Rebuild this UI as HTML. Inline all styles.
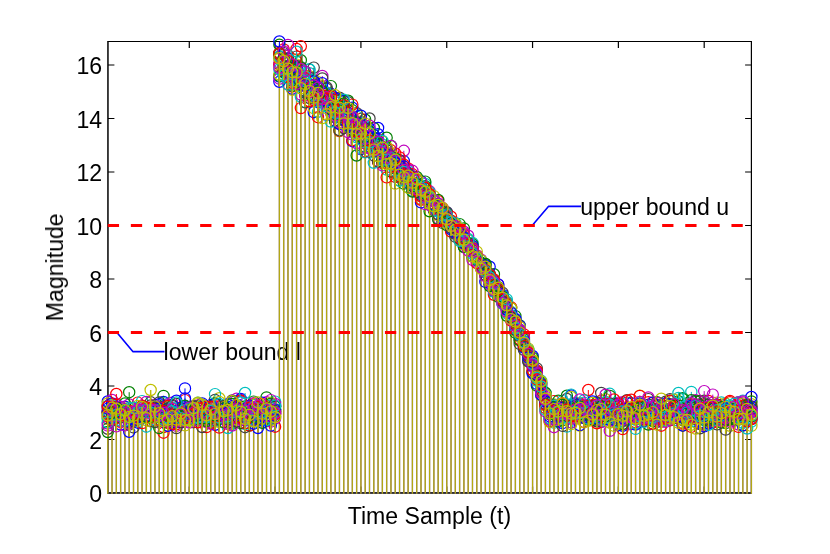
<!DOCTYPE html>
<html><head><meta charset="utf-8"><title>stem plot</title>
<style>
html,body{margin:0;padding:0;background:#fff}
svg{display:block}
text{font-family:"Liberation Sans",sans-serif;font-size:23.1px;fill:#000;will-change:opacity;filter:opacity(0.9999)}
.s{fill:none;stroke-width:1}
.m{fill:none;stroke:none}
</style></head><body>
<svg width="830" height="554" viewBox="0 0 830 554">
<defs>
<marker id="m0" markerUnits="userSpaceOnUse" markerWidth="14" markerHeight="14" refX="7" refY="7" overflow="visible"><circle cx="7" cy="7" r="5.6" fill="none" stroke="#0000ff" stroke-width="1.2"/></marker>
<marker id="m1" markerUnits="userSpaceOnUse" markerWidth="14" markerHeight="14" refX="7" refY="7" overflow="visible"><circle cx="7" cy="7" r="5.6" fill="none" stroke="#008000" stroke-width="1.2"/></marker>
<marker id="m2" markerUnits="userSpaceOnUse" markerWidth="14" markerHeight="14" refX="7" refY="7" overflow="visible"><circle cx="7" cy="7" r="5.6" fill="none" stroke="#ff0000" stroke-width="1.2"/></marker>
<marker id="m3" markerUnits="userSpaceOnUse" markerWidth="14" markerHeight="14" refX="7" refY="7" overflow="visible"><circle cx="7" cy="7" r="5.6" fill="none" stroke="#00bfbf" stroke-width="1.2"/></marker>
<marker id="m4" markerUnits="userSpaceOnUse" markerWidth="14" markerHeight="14" refX="7" refY="7" overflow="visible"><circle cx="7" cy="7" r="5.6" fill="none" stroke="#bf00bf" stroke-width="1.2"/></marker>
<marker id="m5" markerUnits="userSpaceOnUse" markerWidth="14" markerHeight="14" refX="7" refY="7" overflow="visible"><circle cx="7" cy="7" r="5.6" fill="none" stroke="#bfbf00" stroke-width="1.2"/></marker>
<marker id="m6" markerUnits="userSpaceOnUse" markerWidth="14" markerHeight="14" refX="7" refY="7" overflow="visible"><circle cx="7" cy="7" r="5.6" fill="none" stroke="#404040" stroke-width="1.2"/></marker>
</defs>
<rect width="830" height="554" fill="#fff"/>
<g stroke="#000" fill="none">
<path stroke-width="1.1" d="M107.3 41.5H752M107.3 493.0H752"/>
<path stroke-width="1.5" d="M107.95 41.5V493.0"/><path stroke-width="1.2" d="M751.4 41.5V493.0"/>
<path stroke-width="1.2" d="M108 493.00h6.4M751.5 493.00h-6.4M108 439.50h6.4M751.5 439.50h-6.4M108 386.00h6.4M751.5 386.00h-6.4M108 332.50h6.4M751.5 332.50h-6.4M108 279.00h6.4M751.5 279.00h-6.4M108 225.50h6.4M751.5 225.50h-6.4M108 172.00h6.4M751.5 172.00h-6.4M108 118.50h6.4M751.5 118.50h-6.4M108 65.00h6.4M751.5 65.00h-6.4M189.28 41.5v6.4M189.28 493.0v-6.4M275.10 41.5v6.4M275.10 493.0v-6.4M360.92 41.5v6.4M360.92 493.0v-6.4M446.74 41.5v6.4M446.74 493.0v-6.4M532.56 41.5v6.4M532.56 493.0v-6.4M618.38 41.5v6.4M618.38 493.0v-6.4M704.20 41.5v6.4M704.20 493.0v-6.4"/>
</g>
<text x="102.1" y="502.0" text-anchor="end">0</text>
<text x="102.1" y="448.5" text-anchor="end">2</text>
<text x="102.1" y="395.0" text-anchor="end">4</text>
<text x="102.1" y="341.5" text-anchor="end">6</text>
<text x="102.1" y="288.0" text-anchor="end">8</text>
<text x="102.1" y="234.5" text-anchor="end">10</text>
<text x="102.1" y="181.0" text-anchor="end">12</text>
<text x="102.1" y="127.5" text-anchor="end">14</text>
<text x="102.1" y="74.0" text-anchor="end">16</text>
<text x="429.4" y="524.2" text-anchor="middle">Time Sample (t)</text>
<text transform="translate(63,267.3) rotate(-90)" text-anchor="middle">Magnitude</text>
<g fill="none" stroke="#0000ff" stroke-width="1.6" stroke-linejoin="round"><path d="M532.2 225.5L548.4 206.4H581"/><path d="M116.5 332L132.8 351.6H164.5"/></g>
<text x="580.2" y="214.6">upper bound u</text>
<text x="163.6" y="359.7">lower bound l</text>
<path d="M107.15 492.9H752.0" stroke="#2c2c34" stroke-width="1.9" fill="none"/>
<path fill="none" stroke="#94706a" stroke-width="1.4" d="M107.75 493.8V436.6M112.04 493.8V425.0M116.33 493.8V431.0M120.62 493.8V429.1M124.91 493.8V430.0M129.20 493.8V436.4M133.50 493.8V432.0M137.79 493.8V427.3M142.08 493.8V427.7M146.37 493.8V431.3M150.66 493.8V426.0M154.95 493.8V426.6M159.24 493.8V432.7M163.53 493.8V437.3M167.82 493.8V430.4M172.12 493.8V428.6M176.41 493.8V432.7M180.70 493.8V427.1M184.99 493.8V430.0M189.28 493.8V427.1M193.57 493.8V426.8M197.86 493.8V426.9M202.15 493.8V431.6M206.44 493.8V431.7M210.73 493.8V428.5M215.02 493.8V429.4M219.32 493.8V432.2M223.61 493.8V426.8M227.90 493.8V432.6M232.19 493.8V430.1M236.48 493.8V426.3M240.77 493.8V427.7M245.06 493.8V431.8M249.35 493.8V430.1M253.64 493.8V428.3M257.93 493.8V432.6M262.23 493.8V427.4M266.52 493.8V425.1M270.81 493.8V430.2M275.10 493.8V431.3M279.39 493.8V86.4M283.68 493.8V80.1M287.97 493.8V89.2M292.26 493.8V94.5M296.55 493.8V88.4M300.84 493.8V112.7M305.14 493.8V107.0M309.43 493.8V105.9M313.72 493.8V116.8M318.01 493.8V121.8M322.30 493.8V122.8M326.59 493.8V119.5M330.88 493.8V126.2M335.17 493.8V126.2M339.46 493.8V135.6M343.75 493.8V132.8M348.05 493.8V136.7M352.34 493.8V145.8M356.63 493.8V160.1M360.92 493.8V153.7M365.21 493.8V157.0M369.50 493.8V156.2M373.79 493.8V167.4M378.08 493.8V166.6M382.37 493.8V170.0M386.66 493.8V182.0M390.96 493.8V176.1M395.25 493.8V188.3M399.54 493.8V185.3M403.83 493.8V188.2M408.12 493.8V192.3M412.41 493.8V196.1M416.70 493.8V196.7M420.99 493.8V207.0M425.28 493.8V208.7M429.57 493.8V215.9M433.87 493.8V214.8M438.16 493.8V223.8M442.45 493.8V227.5M446.74 493.8V229.6M451.03 493.8V236.1M455.32 493.8V241.3M459.61 493.8V245.4M463.90 493.8V251.7M468.19 493.8V255.1M472.48 493.8V264.5M476.78 493.8V267.8M481.07 493.8V273.5M485.36 493.8V286.5M489.65 493.8V290.6M493.94 493.8V299.4M498.23 493.8V301.5M502.52 493.8V308.5M506.81 493.8V320.4M511.10 493.8V325.1M515.39 493.8V337.3M519.69 493.8V348.5M523.98 493.8V354.5M528.27 493.8V366.0M532.56 493.8V377.9M536.85 493.8V390.3M541.14 493.8V400.3M545.43 493.8V416.0M549.72 493.8V426.5M554.01 493.8V431.8M558.30 493.8V426.0M562.60 493.8V430.5M566.89 493.8V431.2M571.18 493.8V428.8M575.47 493.8V423.5M579.76 493.8V430.3M584.05 493.8V427.0M588.34 493.8V425.4M592.63 493.8V424.4M596.92 493.8V427.9M601.21 493.8V426.6M605.51 493.8V423.9M609.80 493.8V435.5M614.09 493.8V430.5M618.38 493.8V429.8M622.67 493.8V433.7M626.96 493.8V424.2M631.25 493.8V428.7M635.54 493.8V433.5M639.83 493.8V426.1M644.12 493.8V426.5M648.42 493.8V429.1M652.71 493.8V428.5M657.00 493.8V429.3M661.29 493.8V430.3M665.58 493.8V426.5M669.87 493.8V424.9M674.16 493.8V424.7M678.45 493.8V427.4M682.74 493.8V430.3M687.03 493.8V426.8M691.33 493.8V431.5M695.62 493.8V433.3M699.91 493.8V432.9M704.20 493.8V431.0M708.49 493.8V429.4M712.78 493.8V427.1M717.07 493.8V429.0M721.36 493.8V427.2M725.65 493.8V434.2M729.94 493.8V430.4M734.24 493.8V424.7M738.53 493.8V431.5M742.82 493.8V430.1M747.11 493.8V433.1M751.40 493.8V430.5"/>
<path fill="none" stroke="#b4ac10" stroke-width="1.1" d="M107.75 493.8V436.6M112.04 493.8V425.0M116.33 493.8V431.0M120.62 493.8V429.1M124.91 493.8V430.0M129.20 493.8V436.4M133.50 493.8V432.0M137.79 493.8V427.3M142.08 493.8V427.7M146.37 493.8V431.3M150.66 493.8V426.0M154.95 493.8V426.6M159.24 493.8V432.7M163.53 493.8V437.3M167.82 493.8V430.4M172.12 493.8V428.6M176.41 493.8V432.7M180.70 493.8V427.1M184.99 493.8V430.0M189.28 493.8V427.1M193.57 493.8V426.8M197.86 493.8V426.9M202.15 493.8V431.6M206.44 493.8V431.7M210.73 493.8V428.5M215.02 493.8V429.4M219.32 493.8V432.2M223.61 493.8V426.8M227.90 493.8V432.6M232.19 493.8V430.1M236.48 493.8V426.3M240.77 493.8V427.7M245.06 493.8V431.8M249.35 493.8V430.1M253.64 493.8V428.3M257.93 493.8V432.6M262.23 493.8V427.4M266.52 493.8V425.1M270.81 493.8V430.2M275.10 493.8V431.3M279.39 493.8V86.4M283.68 493.8V80.1M287.97 493.8V89.2M292.26 493.8V94.5M296.55 493.8V88.4M300.84 493.8V112.7M305.14 493.8V107.0M309.43 493.8V105.9M313.72 493.8V116.8M318.01 493.8V121.8M322.30 493.8V122.8M326.59 493.8V119.5M330.88 493.8V126.2M335.17 493.8V126.2M339.46 493.8V135.6M343.75 493.8V132.8M348.05 493.8V136.7M352.34 493.8V145.8M356.63 493.8V160.1M360.92 493.8V153.7M365.21 493.8V157.0M369.50 493.8V156.2M373.79 493.8V167.4M378.08 493.8V166.6M382.37 493.8V170.0M386.66 493.8V182.0M390.96 493.8V176.1M395.25 493.8V188.3M399.54 493.8V185.3M403.83 493.8V188.2M408.12 493.8V192.3M412.41 493.8V196.1M416.70 493.8V196.7M420.99 493.8V207.0M425.28 493.8V208.7M429.57 493.8V215.9M433.87 493.8V214.8M438.16 493.8V223.8M442.45 493.8V227.5M446.74 493.8V229.6M451.03 493.8V236.1M455.32 493.8V241.3M459.61 493.8V245.4M463.90 493.8V251.7M468.19 493.8V255.1M472.48 493.8V264.5M476.78 493.8V267.8M481.07 493.8V273.5M485.36 493.8V286.5M489.65 493.8V290.6M493.94 493.8V299.4M498.23 493.8V301.5M502.52 493.8V308.5M506.81 493.8V320.4M511.10 493.8V325.1M515.39 493.8V337.3M519.69 493.8V348.5M523.98 493.8V354.5M528.27 493.8V366.0M532.56 493.8V377.9M536.85 493.8V390.3M541.14 493.8V400.3M545.43 493.8V416.0M549.72 493.8V426.5M554.01 493.8V431.8M558.30 493.8V426.0M562.60 493.8V430.5M566.89 493.8V431.2M571.18 493.8V428.8M575.47 493.8V423.5M579.76 493.8V430.3M584.05 493.8V427.0M588.34 493.8V425.4M592.63 493.8V424.4M596.92 493.8V427.9M601.21 493.8V426.6M605.51 493.8V423.9M609.80 493.8V435.5M614.09 493.8V430.5M618.38 493.8V429.8M622.67 493.8V433.7M626.96 493.8V424.2M631.25 493.8V428.7M635.54 493.8V433.5M639.83 493.8V426.1M644.12 493.8V426.5M648.42 493.8V429.1M652.71 493.8V428.5M657.00 493.8V429.3M661.29 493.8V430.3M665.58 493.8V426.5M669.87 493.8V424.9M674.16 493.8V424.7M678.45 493.8V427.4M682.74 493.8V430.3M687.03 493.8V426.8M691.33 493.8V431.5M695.62 493.8V433.3M699.91 493.8V432.9M704.20 493.8V431.0M708.49 493.8V429.4M712.78 493.8V427.1M717.07 493.8V429.0M721.36 493.8V427.2M725.65 493.8V434.2M729.94 493.8V430.4M734.24 493.8V424.7M738.53 493.8V431.5M742.82 493.8V430.1M747.11 493.8V433.1M751.40 493.8V430.5"/>
<path class="s" stroke="#0000ff" d="M107.75 436.6V401.5M112.04 425.0V410.0M116.33 431.0V412.1M120.62 429.1V424.5M124.91 430.0V414.5M129.20 436.4V415.0M133.50 432.0V413.3M137.79 427.3V416.7M142.08 427.7V413.0M146.37 431.3V415.7M150.66 426.0V421.0M154.95 426.6V407.2M159.24 432.7V407.2M163.53 437.3V402.0M167.82 430.4V412.4M172.12 428.6V415.3M176.41 432.7V416.2M180.70 427.1V422.5M184.99 430.0V406.6M189.28 427.1V419.7M193.57 426.8V420.2M197.86 426.9V414.0M202.15 431.6V403.4M206.44 431.7V411.3M210.73 428.5V419.2M215.02 429.4V417.2M219.32 432.2V408.8M223.61 426.8V413.8M227.90 432.6V417.6M232.19 430.1V414.2M236.48 426.3V408.1M240.77 427.7V400.3M245.06 431.8V420.6M249.35 430.1V416.7M253.64 428.3V417.8M257.93 432.6V428.0M262.23 427.4V418.6M266.52 425.1V419.2M270.81 430.2V405.7M275.10 431.3V413.6M279.39 86.4V76.6M283.68 80.1V58.4M287.97 89.2V71.8M292.26 94.5V88.8M296.55 88.4V81.4M300.84 112.7V85.1M305.14 107.0V91.5M309.43 105.9V86.5M313.72 116.8V112.2M318.01 121.8V96.8M322.30 122.8V88.3M326.59 119.5V93.6M330.88 126.2V95.1M335.17 126.2V98.8M339.46 135.6V99.3M343.75 132.8V127.1M348.05 136.7V113.0M352.34 145.8V141.2M356.63 160.1V133.7M360.92 153.7V149.1M365.21 157.0V127.1M369.50 156.2V128.9M373.79 167.4V145.5M378.08 166.6V134.2M382.37 170.0V157.0M386.66 182.0V154.9M390.96 176.1V159.0M395.25 188.3V171.1M399.54 185.3V165.6M403.83 188.2V161.1M408.12 192.3V182.6M412.41 196.1V176.2M416.70 196.7V186.3M420.99 207.0V181.1M425.28 208.7V192.2M429.57 215.9V196.0M433.87 214.8V200.9M438.16 223.8V207.4M442.45 227.5V219.5M446.74 229.6V212.4M451.03 236.1V229.3M455.32 241.3V227.8M459.61 245.4V231.6M463.90 251.7V243.0M468.19 255.1V244.8M472.48 264.5V246.6M476.78 267.8V257.4M481.07 273.5V267.2M485.36 286.5V281.9M489.65 290.6V280.9M493.94 299.4V286.4M498.23 301.5V293.4M502.52 308.5V302.9M506.81 320.4V305.6M511.10 325.1V317.8M515.39 337.3V324.8M519.69 348.5V330.9M523.98 354.5V346.9M528.27 366.0V355.0M532.56 377.9V356.0M536.85 390.3V372.7M541.14 400.3V394.7M545.43 416.0V401.9M549.72 426.5V409.2M554.01 431.8V405.0M558.30 426.0V411.8M562.60 430.5V416.1M566.89 431.2V417.3M571.18 428.8V408.7M575.47 423.5V410.8M579.76 430.3V416.0M584.05 427.0V413.9M588.34 425.4V415.4M592.63 424.4V408.2M596.92 427.9V417.1M601.21 426.6V409.7M605.51 423.9V407.4M609.80 435.5V409.7M614.09 430.5V418.0M618.38 429.8V404.3M622.67 433.7V417.0M626.96 424.2V410.1M631.25 428.7V417.5M635.54 433.5V423.7M639.83 426.1V411.3M644.12 426.5V410.9M648.42 429.1V413.2M652.71 428.5V411.0M657.00 429.3V416.8M661.29 430.3V417.4M665.58 426.5V413.8M669.87 424.9V400.7M674.16 424.7V407.6M678.45 427.4V416.0M682.74 430.3V409.2M687.03 426.8V415.8M691.33 431.5V415.6M695.62 433.3V407.3M699.91 432.9V416.1M704.20 431.0V423.3M708.49 429.4V418.4M712.78 427.1V412.2M717.07 429.0V411.9M721.36 427.2V404.9M725.65 434.2V417.3M729.94 430.4V408.2M734.24 424.7V410.1M738.53 431.5V413.7M742.82 430.1V407.5M747.11 433.1V409.7M751.40 430.5V418.2"/>
<polyline class="m" marker-start="url(#m0)" marker-mid="url(#m0)" marker-end="url(#m0)" points="107.75,401.5 112.04,410.0 116.33,412.1 120.62,424.5 124.91,414.5 129.20,415.0 133.50,413.3 137.79,416.7 142.08,413.0 146.37,415.7 150.66,421.0 154.95,407.2 159.24,407.2 163.53,402.0 167.82,412.4 172.12,415.3 176.41,416.2 180.70,422.5 184.99,406.6 189.28,419.7 193.57,420.2 197.86,414.0 202.15,403.4 206.44,411.3 210.73,419.2 215.02,417.2 219.32,408.8 223.61,413.8 227.90,417.6 232.19,414.2 236.48,408.1 240.77,400.3 245.06,420.6 249.35,416.7 253.64,417.8 257.93,428.0 262.23,418.6 266.52,419.2 270.81,405.7 275.10,413.6 279.39,76.6 283.68,58.4 287.97,71.8 292.26,88.8 296.55,81.4 300.84,85.1 305.14,91.5 309.43,86.5 313.72,112.2 318.01,96.8 322.30,88.3 326.59,93.6 330.88,95.1 335.17,98.8 339.46,99.3 343.75,127.1 348.05,113.0 352.34,141.2 356.63,133.7 360.92,149.1 365.21,127.1 369.50,128.9 373.79,145.5 378.08,134.2 382.37,157.0 386.66,154.9 390.96,159.0 395.25,171.1 399.54,165.6 403.83,161.1 408.12,182.6 412.41,176.2 416.70,186.3 420.99,181.1 425.28,192.2 429.57,196.0 433.87,200.9 438.16,207.4 442.45,219.5 446.74,212.4 451.03,229.3 455.32,227.8 459.61,231.6 463.90,243.0 468.19,244.8 472.48,246.6 476.78,257.4 481.07,267.2 485.36,281.9 489.65,280.9 493.94,286.4 498.23,293.4 502.52,302.9 506.81,305.6 511.10,317.8 515.39,324.8 519.69,330.9 523.98,346.9 528.27,355.0 532.56,356.0 536.85,372.7 541.14,394.7 545.43,401.9 549.72,409.2 554.01,405.0 558.30,411.8 562.60,416.1 566.89,417.3 571.18,408.7 575.47,410.8 579.76,416.0 584.05,413.9 588.34,415.4 592.63,408.2 596.92,417.1 601.21,409.7 605.51,407.4 609.80,409.7 614.09,418.0 618.38,404.3 622.67,417.0 626.96,410.1 631.25,417.5 635.54,423.7 639.83,411.3 644.12,410.9 648.42,413.2 652.71,411.0 657.00,416.8 661.29,417.4 665.58,413.8 669.87,400.7 674.16,407.6 678.45,416.0 682.74,409.2 687.03,415.8 691.33,415.6 695.62,407.3 699.91,416.1 704.20,423.3 708.49,418.4 712.78,412.2 717.07,411.9 721.36,404.9 725.65,417.3 729.94,408.2 734.24,410.1 738.53,413.7 742.82,407.5 747.11,409.7 751.40,418.2"/>
<path class="s" stroke="#008000" d="M107.75 436.6V406.0M112.04 425.0V420.4M116.33 431.0V412.4M120.62 429.1V412.7M124.91 430.0V410.1M129.20 436.4V417.3M133.50 432.0V413.0M137.79 427.3V413.6M142.08 427.7V406.5M146.37 431.3V417.8M150.66 426.0V412.3M154.95 426.6V414.4M159.24 432.7V420.9M163.53 437.3V395.9M167.82 430.4V413.2M172.12 428.6V422.1M176.41 432.7V403.9M180.70 427.1V419.5M184.99 430.0V410.4M189.28 427.1V407.3M193.57 426.8V416.8M197.86 426.9V415.5M202.15 431.6V416.1M206.44 431.7V413.6M210.73 428.5V422.9M215.02 429.4V420.5M219.32 432.2V413.6M223.61 426.8V406.2M227.90 432.6V408.8M232.19 430.1V401.9M236.48 426.3V408.4M240.77 427.7V416.0M245.06 431.8V413.5M249.35 430.1V425.5M253.64 428.3V418.8M257.93 432.6V419.2M262.23 427.4V411.0M266.52 425.1V408.7M270.81 430.2V416.3M275.10 431.3V416.4M279.39 86.4V75.9M283.68 80.1V65.9M287.97 89.2V65.9M292.26 94.5V67.7M296.55 88.4V83.2M300.84 112.7V60.2M305.14 107.0V71.6M309.43 105.9V87.7M313.72 116.8V95.6M318.01 121.8V97.3M322.30 122.8V96.5M326.59 119.5V101.9M330.88 126.2V100.9M335.17 126.2V102.1M339.46 135.6V100.4M343.75 132.8V106.3M348.05 136.7V121.6M352.34 145.8V121.0M356.63 160.1V131.8M360.92 153.7V137.4M365.21 157.0V119.7M369.50 156.2V143.8M373.79 167.4V128.0M378.08 166.6V150.6M382.37 170.0V150.0M386.66 182.0V148.1M390.96 176.1V159.9M395.25 188.3V161.6M399.54 185.3V169.8M403.83 188.2V175.3M408.12 192.3V177.7M412.41 196.1V184.7M416.70 196.7V177.0M420.99 207.0V190.8M425.28 208.7V186.3M429.57 215.9V211.3M433.87 214.8V203.7M438.16 223.8V206.1M442.45 227.5V214.7M446.74 229.6V213.7M451.03 236.1V220.8M455.32 241.3V229.9M459.61 245.4V232.4M463.90 251.7V228.4M468.19 255.1V244.4M472.48 264.5V250.1M476.78 267.8V259.1M481.07 273.5V263.1M485.36 286.5V275.3M489.65 290.6V277.8M493.94 299.4V274.2M498.23 301.5V287.1M502.52 308.5V296.5M506.81 320.4V302.7M511.10 325.1V308.0M515.39 337.3V322.0M519.69 348.5V325.4M523.98 354.5V339.2M528.27 366.0V353.1M532.56 377.9V357.8M536.85 390.3V385.7M541.14 400.3V391.2M545.43 416.0V400.0M549.72 426.5V418.5M554.01 431.8V413.7M558.30 426.0V416.8M562.60 430.5V416.9M566.89 431.2V395.7M571.18 428.8V408.8M575.47 423.5V413.1M579.76 430.3V404.5M584.05 427.0V414.2M588.34 425.4V407.2M592.63 424.4V410.5M596.92 427.9V402.5M601.21 426.6V421.7M605.51 423.9V407.9M609.80 435.5V412.0M614.09 430.5V420.0M618.38 429.8V406.1M622.67 433.7V418.2M626.96 424.2V402.6M631.25 428.7V409.5M635.54 433.5V408.4M639.83 426.1V412.2M644.12 426.5V407.1M648.42 429.1V424.5M652.71 428.5V412.3M657.00 429.3V416.7M661.29 430.3V411.0M665.58 426.5V413.0M669.87 424.9V408.9M674.16 424.7V418.0M678.45 427.4V401.2M682.74 430.3V398.2M687.03 426.8V414.1M691.33 431.5V412.8M695.62 433.3V410.9M699.91 432.9V404.8M704.20 431.0V400.8M708.49 429.4V420.3M712.78 427.1V416.6M717.07 429.0V419.4M721.36 427.2V419.7M725.65 434.2V423.1M729.94 430.4V410.5M734.24 424.7V420.0M738.53 431.5V403.3M742.82 430.1V407.0M747.11 433.1V419.2M751.40 430.5V419.2"/>
<polyline class="m" marker-start="url(#m1)" marker-mid="url(#m1)" marker-end="url(#m1)" points="107.75,406.0 112.04,420.4 116.33,412.4 120.62,412.7 124.91,410.1 129.20,417.3 133.50,413.0 137.79,413.6 142.08,406.5 146.37,417.8 150.66,412.3 154.95,414.4 159.24,420.9 163.53,395.9 167.82,413.2 172.12,422.1 176.41,403.9 180.70,419.5 184.99,410.4 189.28,407.3 193.57,416.8 197.86,415.5 202.15,416.1 206.44,413.6 210.73,422.9 215.02,420.5 219.32,413.6 223.61,406.2 227.90,408.8 232.19,401.9 236.48,408.4 240.77,416.0 245.06,413.5 249.35,425.5 253.64,418.8 257.93,419.2 262.23,411.0 266.52,408.7 270.81,416.3 275.10,416.4 279.39,75.9 283.68,65.9 287.97,65.9 292.26,67.7 296.55,83.2 300.84,60.2 305.14,71.6 309.43,87.7 313.72,95.6 318.01,97.3 322.30,96.5 326.59,101.9 330.88,100.9 335.17,102.1 339.46,100.4 343.75,106.3 348.05,121.6 352.34,121.0 356.63,131.8 360.92,137.4 365.21,119.7 369.50,143.8 373.79,128.0 378.08,150.6 382.37,150.0 386.66,148.1 390.96,159.9 395.25,161.6 399.54,169.8 403.83,175.3 408.12,177.7 412.41,184.7 416.70,177.0 420.99,190.8 425.28,186.3 429.57,211.3 433.87,203.7 438.16,206.1 442.45,214.7 446.74,213.7 451.03,220.8 455.32,229.9 459.61,232.4 463.90,228.4 468.19,244.4 472.48,250.1 476.78,259.1 481.07,263.1 485.36,275.3 489.65,277.8 493.94,274.2 498.23,287.1 502.52,296.5 506.81,302.7 511.10,308.0 515.39,322.0 519.69,325.4 523.98,339.2 528.27,353.1 532.56,357.8 536.85,385.7 541.14,391.2 545.43,400.0 549.72,418.5 554.01,413.7 558.30,416.8 562.60,416.9 566.89,395.7 571.18,408.8 575.47,413.1 579.76,404.5 584.05,414.2 588.34,407.2 592.63,410.5 596.92,402.5 601.21,421.7 605.51,407.9 609.80,412.0 614.09,420.0 618.38,406.1 622.67,418.2 626.96,402.6 631.25,409.5 635.54,408.4 639.83,412.2 644.12,407.1 648.42,424.5 652.71,412.3 657.00,416.7 661.29,411.0 665.58,413.0 669.87,408.9 674.16,418.0 678.45,401.2 682.74,398.2 687.03,414.1 691.33,412.8 695.62,410.9 699.91,404.8 704.20,400.8 708.49,420.3 712.78,416.6 717.07,419.4 721.36,419.7 725.65,423.1 729.94,410.5 734.24,420.0 738.53,403.3 742.82,407.0 747.11,419.2 751.40,419.2"/>
<path class="s" stroke="#ff0000" d="M107.75 436.6V416.6M112.04 425.0V403.9M116.33 431.0V418.1M120.62 429.1V422.1M124.91 430.0V413.1M129.20 436.4V410.4M133.50 432.0V416.9M137.79 427.3V402.6M142.08 427.7V411.2M146.37 431.3V409.9M150.66 426.0V418.1M154.95 426.6V413.0M159.24 432.7V413.7M163.53 437.3V427.0M167.82 430.4V410.9M172.12 428.6V424.0M176.41 432.7V412.9M180.70 427.1V422.0M184.99 430.0V400.1M189.28 427.1V410.7M193.57 426.8V407.3M197.86 426.9V407.0M202.15 431.6V421.1M206.44 431.7V427.1M210.73 428.5V414.8M215.02 429.4V407.1M219.32 432.2V412.2M223.61 426.8V407.8M227.90 432.6V406.9M232.19 430.1V422.1M236.48 426.3V410.9M240.77 427.7V400.4M245.06 431.8V416.3M249.35 430.1V425.5M253.64 428.3V414.2M257.93 432.6V415.7M262.23 427.4V410.1M266.52 425.1V418.4M270.81 430.2V412.2M275.10 431.3V426.7M279.39 86.4V52.8M283.68 80.1V49.4M287.97 89.2V55.8M292.26 94.5V86.6M296.55 88.4V72.6M300.84 112.7V108.1M305.14 107.0V80.4M309.43 105.9V87.4M313.72 116.8V100.1M318.01 121.8V90.9M322.30 122.8V96.7M326.59 119.5V92.8M330.88 126.2V104.3M335.17 126.2V107.1M339.46 135.6V131.0M343.75 132.8V127.4M348.05 136.7V125.0M352.34 145.8V121.8M356.63 160.1V128.4M360.92 153.7V118.9M365.21 157.0V143.5M369.50 156.2V142.0M373.79 167.4V141.9M378.08 166.6V149.7M382.37 170.0V148.2M386.66 182.0V160.1M390.96 176.1V150.3M395.25 188.3V166.3M399.54 185.3V161.4M403.83 188.2V172.7M408.12 192.3V168.4M412.41 196.1V188.7M416.70 196.7V182.8M420.99 207.0V192.1M425.28 208.7V193.4M429.57 215.9V193.6M433.87 214.8V208.9M438.16 223.8V214.4M442.45 227.5V217.8M446.74 229.6V217.3M451.03 236.1V231.5M455.32 241.3V228.4M459.61 245.4V239.4M463.90 251.7V244.3M468.19 255.1V246.9M472.48 264.5V249.7M476.78 267.8V259.9M481.07 273.5V265.6M485.36 286.5V270.3M489.65 290.6V278.0M493.94 299.4V294.8M498.23 301.5V293.1M502.52 308.5V298.7M506.81 320.4V302.7M511.10 325.1V307.3M515.39 337.3V321.7M519.69 348.5V333.3M523.98 354.5V347.3M528.27 366.0V353.4M532.56 377.9V361.6M536.85 390.3V371.2M541.14 400.3V392.7M545.43 416.0V400.2M549.72 426.5V407.6M554.01 431.8V401.1M558.30 426.0V411.1M562.60 430.5V416.2M566.89 431.2V417.1M571.18 428.8V415.0M575.47 423.5V416.8M579.76 430.3V407.6M584.05 427.0V406.0M588.34 425.4V408.2M592.63 424.4V405.3M596.92 427.9V415.6M601.21 426.6V410.4M605.51 423.9V415.2M609.80 435.5V412.5M614.09 430.5V405.0M618.38 429.8V412.9M622.67 433.7V424.5M626.96 424.2V414.3M631.25 428.7V417.2M635.54 433.5V422.2M639.83 426.1V417.7M644.12 426.5V406.7M648.42 429.1V402.2M652.71 428.5V415.8M657.00 429.3V406.4M661.29 430.3V405.3M665.58 426.5V420.0M669.87 424.9V413.0M674.16 424.7V413.0M678.45 427.4V411.7M682.74 430.3V422.8M687.03 426.8V414.9M691.33 431.5V406.1M695.62 433.3V404.8M699.91 432.9V401.2M704.20 431.0V414.9M708.49 429.4V401.0M712.78 427.1V408.6M717.07 429.0V421.3M721.36 427.2V408.0M725.65 434.2V415.0M729.94 430.4V409.5M734.24 424.7V413.4M738.53 431.5V405.2M742.82 430.1V411.1M747.11 433.1V414.5M751.40 430.5V406.7"/>
<polyline class="m" marker-start="url(#m2)" marker-mid="url(#m2)" marker-end="url(#m2)" points="107.75,416.6 112.04,403.9 116.33,418.1 120.62,422.1 124.91,413.1 129.20,410.4 133.50,416.9 137.79,402.6 142.08,411.2 146.37,409.9 150.66,418.1 154.95,413.0 159.24,413.7 163.53,427.0 167.82,410.9 172.12,424.0 176.41,412.9 180.70,422.0 184.99,400.1 189.28,410.7 193.57,407.3 197.86,407.0 202.15,421.1 206.44,427.1 210.73,414.8 215.02,407.1 219.32,412.2 223.61,407.8 227.90,406.9 232.19,422.1 236.48,410.9 240.77,400.4 245.06,416.3 249.35,425.5 253.64,414.2 257.93,415.7 262.23,410.1 266.52,418.4 270.81,412.2 275.10,426.7 279.39,52.8 283.68,49.4 287.97,55.8 292.26,86.6 296.55,72.6 300.84,108.1 305.14,80.4 309.43,87.4 313.72,100.1 318.01,90.9 322.30,96.7 326.59,92.8 330.88,104.3 335.17,107.1 339.46,131.0 343.75,127.4 348.05,125.0 352.34,121.8 356.63,128.4 360.92,118.9 365.21,143.5 369.50,142.0 373.79,141.9 378.08,149.7 382.37,148.2 386.66,160.1 390.96,150.3 395.25,166.3 399.54,161.4 403.83,172.7 408.12,168.4 412.41,188.7 416.70,182.8 420.99,192.1 425.28,193.4 429.57,193.6 433.87,208.9 438.16,214.4 442.45,217.8 446.74,217.3 451.03,231.5 455.32,228.4 459.61,239.4 463.90,244.3 468.19,246.9 472.48,249.7 476.78,259.9 481.07,265.6 485.36,270.3 489.65,278.0 493.94,294.8 498.23,293.1 502.52,298.7 506.81,302.7 511.10,307.3 515.39,321.7 519.69,333.3 523.98,347.3 528.27,353.4 532.56,361.6 536.85,371.2 541.14,392.7 545.43,400.2 549.72,407.6 554.01,401.1 558.30,411.1 562.60,416.2 566.89,417.1 571.18,415.0 575.47,416.8 579.76,407.6 584.05,406.0 588.34,408.2 592.63,405.3 596.92,415.6 601.21,410.4 605.51,415.2 609.80,412.5 614.09,405.0 618.38,412.9 622.67,424.5 626.96,414.3 631.25,417.2 635.54,422.2 639.83,417.7 644.12,406.7 648.42,402.2 652.71,415.8 657.00,406.4 661.29,405.3 665.58,420.0 669.87,413.0 674.16,413.0 678.45,411.7 682.74,422.8 687.03,414.9 691.33,406.1 695.62,404.8 699.91,401.2 704.20,414.9 708.49,401.0 712.78,408.6 717.07,421.3 721.36,408.0 725.65,415.0 729.94,409.5 734.24,413.4 738.53,405.2 742.82,411.1 747.11,414.5 751.40,406.7"/>
<path class="s" stroke="#00bfbf" d="M107.75 436.6V411.1M112.04 425.0V415.3M116.33 431.0V404.7M120.62 429.1V415.3M124.91 430.0V416.8M129.20 436.4V416.1M133.50 432.0V422.0M137.79 427.3V416.2M142.08 427.7V401.1M146.37 431.3V418.5M150.66 426.0V412.7M154.95 426.6V419.7M159.24 432.7V416.6M163.53 437.3V403.2M167.82 430.4V407.1M172.12 428.6V416.6M176.41 432.7V412.7M180.70 427.1V417.9M184.99 430.0V417.7M189.28 427.1V418.5M193.57 426.8V418.4M197.86 426.9V410.7M202.15 431.6V409.0M206.44 431.7V409.7M210.73 428.5V413.8M215.02 429.4V421.3M219.32 432.2V413.2M223.61 426.8V418.6M227.90 432.6V407.2M232.19 430.1V409.3M236.48 426.3V408.1M240.77 427.7V414.9M245.06 431.8V424.1M249.35 430.1V406.7M253.64 428.3V405.0M257.93 432.6V422.1M262.23 427.4V411.9M266.52 425.1V405.2M270.81 430.2V419.5M275.10 431.3V401.6M279.39 86.4V64.3M283.68 80.1V75.0M287.97 89.2V55.1M292.26 94.5V69.2M296.55 88.4V82.0M300.84 112.7V70.9M305.14 107.0V101.9M309.43 105.9V69.3M313.72 116.8V98.4M318.01 121.8V91.5M322.30 122.8V101.8M326.59 119.5V97.6M330.88 126.2V97.1M335.17 126.2V116.9M339.46 135.6V105.8M343.75 132.8V119.5M348.05 136.7V126.9M352.34 145.8V126.5M356.63 160.1V137.3M360.92 153.7V139.2M365.21 157.0V128.0M369.50 156.2V141.3M373.79 167.4V134.8M378.08 166.6V144.6M382.37 170.0V159.6M386.66 182.0V169.7M390.96 176.1V164.8M395.25 188.3V162.4M399.54 185.3V168.3M403.83 188.2V177.4M408.12 192.3V171.1M412.41 196.1V190.6M416.70 196.7V192.1M420.99 207.0V189.3M425.28 208.7V184.0M429.57 215.9V197.2M433.87 214.8V208.3M438.16 223.8V205.9M442.45 227.5V210.4M446.74 229.6V214.4M451.03 236.1V225.2M455.32 241.3V232.1M459.61 245.4V233.7M463.90 251.7V238.0M468.19 255.1V239.0M472.48 264.5V242.9M476.78 267.8V260.3M481.07 273.5V265.7M485.36 286.5V270.4M489.65 290.6V278.0M493.94 299.4V282.1M498.23 301.5V289.4M502.52 308.5V298.0M506.81 320.4V301.7M511.10 325.1V316.2M515.39 337.3V328.6M519.69 348.5V339.9M523.98 354.5V347.6M528.27 366.0V358.0M532.56 377.9V372.3M536.85 390.3V373.6M541.14 400.3V387.6M545.43 416.0V403.8M549.72 426.5V418.3M554.01 431.8V422.7M558.30 426.0V418.5M562.60 430.5V401.1M566.89 431.2V426.6M571.18 428.8V411.9M575.47 423.5V408.1M579.76 430.3V411.9M584.05 427.0V414.7M588.34 425.4V407.9M592.63 424.4V419.7M596.92 427.9V409.3M601.21 426.6V403.8M605.51 423.9V419.3M609.80 435.5V417.9M614.09 430.5V411.9M618.38 429.8V406.5M622.67 433.7V404.3M626.96 424.2V408.5M631.25 428.7V417.0M635.54 433.5V419.8M639.83 426.1V411.2M644.12 426.5V410.2M648.42 429.1V419.7M652.71 428.5V412.4M657.00 429.3V410.7M661.29 430.3V406.2M665.58 426.5V419.0M669.87 424.9V409.2M674.16 424.7V420.1M678.45 427.4V415.4M682.74 430.3V413.2M687.03 426.8V403.2M691.33 431.5V391.9M695.62 433.3V411.2M699.91 432.9V409.6M704.20 431.0V406.4M708.49 429.4V421.3M712.78 427.1V407.9M717.07 429.0V420.6M721.36 427.2V402.5M725.65 434.2V403.7M729.94 430.4V409.6M734.24 424.7V417.8M738.53 431.5V402.3M742.82 430.1V411.1M747.11 433.1V412.1M751.40 430.5V409.1"/>
<polyline class="m" marker-start="url(#m3)" marker-mid="url(#m3)" marker-end="url(#m3)" points="107.75,411.1 112.04,415.3 116.33,404.7 120.62,415.3 124.91,416.8 129.20,416.1 133.50,422.0 137.79,416.2 142.08,401.1 146.37,418.5 150.66,412.7 154.95,419.7 159.24,416.6 163.53,403.2 167.82,407.1 172.12,416.6 176.41,412.7 180.70,417.9 184.99,417.7 189.28,418.5 193.57,418.4 197.86,410.7 202.15,409.0 206.44,409.7 210.73,413.8 215.02,421.3 219.32,413.2 223.61,418.6 227.90,407.2 232.19,409.3 236.48,408.1 240.77,414.9 245.06,424.1 249.35,406.7 253.64,405.0 257.93,422.1 262.23,411.9 266.52,405.2 270.81,419.5 275.10,401.6 279.39,64.3 283.68,75.0 287.97,55.1 292.26,69.2 296.55,82.0 300.84,70.9 305.14,101.9 309.43,69.3 313.72,98.4 318.01,91.5 322.30,101.8 326.59,97.6 330.88,97.1 335.17,116.9 339.46,105.8 343.75,119.5 348.05,126.9 352.34,126.5 356.63,137.3 360.92,139.2 365.21,128.0 369.50,141.3 373.79,134.8 378.08,144.6 382.37,159.6 386.66,169.7 390.96,164.8 395.25,162.4 399.54,168.3 403.83,177.4 408.12,171.1 412.41,190.6 416.70,192.1 420.99,189.3 425.28,184.0 429.57,197.2 433.87,208.3 438.16,205.9 442.45,210.4 446.74,214.4 451.03,225.2 455.32,232.1 459.61,233.7 463.90,238.0 468.19,239.0 472.48,242.9 476.78,260.3 481.07,265.7 485.36,270.4 489.65,278.0 493.94,282.1 498.23,289.4 502.52,298.0 506.81,301.7 511.10,316.2 515.39,328.6 519.69,339.9 523.98,347.6 528.27,358.0 532.56,372.3 536.85,373.6 541.14,387.6 545.43,403.8 549.72,418.3 554.01,422.7 558.30,418.5 562.60,401.1 566.89,426.6 571.18,411.9 575.47,408.1 579.76,411.9 584.05,414.7 588.34,407.9 592.63,419.7 596.92,409.3 601.21,403.8 605.51,419.3 609.80,417.9 614.09,411.9 618.38,406.5 622.67,404.3 626.96,408.5 631.25,417.0 635.54,419.8 639.83,411.2 644.12,410.2 648.42,419.7 652.71,412.4 657.00,410.7 661.29,406.2 665.58,419.0 669.87,409.2 674.16,420.1 678.45,415.4 682.74,413.2 687.03,403.2 691.33,391.9 695.62,411.2 699.91,409.6 704.20,406.4 708.49,421.3 712.78,407.9 717.07,420.6 721.36,402.5 725.65,403.7 729.94,409.6 734.24,417.8 738.53,402.3 742.82,411.1 747.11,412.1 751.40,409.1"/>
<path class="s" stroke="#bf00bf" d="M107.75 436.6V423.5M112.04 425.0V410.1M116.33 431.0V406.5M120.62 429.1V410.6M124.91 430.0V411.8M129.20 436.4V418.7M133.50 432.0V408.7M137.79 427.3V411.5M142.08 427.7V412.7M146.37 431.3V416.3M150.66 426.0V407.4M154.95 426.6V404.9M159.24 432.7V410.3M163.53 437.3V407.1M167.82 430.4V404.4M172.12 428.6V402.8M176.41 432.7V411.3M180.70 427.1V414.1M184.99 430.0V415.4M189.28 427.1V412.7M193.57 426.8V409.3M197.86 426.9V406.9M202.15 431.6V415.4M206.44 431.7V411.8M210.73 428.5V419.0M215.02 429.4V404.8M219.32 432.2V415.2M223.61 426.8V410.5M227.90 432.6V417.3M232.19 430.1V414.6M236.48 426.3V417.1M240.77 427.7V402.0M245.06 431.8V410.5M249.35 430.1V413.8M253.64 428.3V418.7M257.93 432.6V416.6M262.23 427.4V409.2M266.52 425.1V402.3M270.81 430.2V421.7M275.10 431.3V418.5M279.39 86.4V62.7M283.68 80.1V70.7M287.97 89.2V84.3M292.26 94.5V71.8M296.55 88.4V68.5M300.84 112.7V94.6M305.14 107.0V81.1M309.43 105.9V77.5M313.72 116.8V81.1M318.01 121.8V98.3M322.30 122.8V76.0M326.59 119.5V96.5M330.88 126.2V113.1M335.17 126.2V100.1M339.46 135.6V123.4M343.75 132.8V108.6M348.05 136.7V132.1M352.34 145.8V117.4M356.63 160.1V133.5M360.92 153.7V122.2M365.21 157.0V129.7M369.50 156.2V136.3M373.79 167.4V143.5M378.08 166.6V139.5M382.37 170.0V165.4M386.66 182.0V152.8M390.96 176.1V157.2M395.25 188.3V160.5M399.54 185.3V163.2M403.83 188.2V150.8M408.12 192.3V176.1M412.41 196.1V176.7M416.70 196.7V184.7M420.99 207.0V182.1M425.28 208.7V204.1M429.57 215.9V191.3M433.87 214.8V206.8M438.16 223.8V218.5M442.45 227.5V218.1M446.74 229.6V219.2M451.03 236.1V222.7M455.32 241.3V228.9M459.61 245.4V230.8M463.90 251.7V239.8M468.19 255.1V245.6M472.48 264.5V259.9M476.78 267.8V255.4M481.07 273.5V259.6M485.36 286.5V271.9M489.65 290.6V284.5M493.94 299.4V289.4M498.23 301.5V284.7M502.52 308.5V301.5M506.81 320.4V309.8M511.10 325.1V318.8M515.39 337.3V321.6M519.69 348.5V336.0M523.98 354.5V346.9M528.27 366.0V359.8M532.56 377.9V365.1M536.85 390.3V372.2M541.14 400.3V389.2M545.43 416.0V396.6M549.72 426.5V411.6M554.01 431.8V411.8M558.30 426.0V411.6M562.60 430.5V412.5M566.89 431.2V406.3M571.18 428.8V409.7M575.47 423.5V416.4M579.76 430.3V411.9M584.05 427.0V413.2M588.34 425.4V409.7M592.63 424.4V411.6M596.92 427.9V410.1M601.21 426.6V422.0M605.51 423.9V410.4M609.80 435.5V404.5M614.09 430.5V421.2M618.38 429.8V402.7M622.67 433.7V410.9M626.96 424.2V414.1M631.25 428.7V424.1M635.54 433.5V405.9M639.83 426.1V418.8M644.12 426.5V416.0M648.42 429.1V409.3M652.71 428.5V419.2M657.00 429.3V419.0M661.29 430.3V420.0M665.58 426.5V413.5M669.87 424.9V409.1M674.16 424.7V410.2M678.45 427.4V410.2M682.74 430.3V414.9M687.03 426.8V411.9M691.33 431.5V417.1M695.62 433.3V400.2M699.91 432.9V411.5M704.20 431.0V425.0M708.49 429.4V419.5M712.78 427.1V402.7M717.07 429.0V421.3M721.36 427.2V415.5M725.65 434.2V410.2M729.94 430.4V419.6M734.24 424.7V406.0M738.53 431.5V402.2M742.82 430.1V417.9M747.11 433.1V405.7M751.40 430.5V418.4"/>
<polyline class="m" marker-start="url(#m4)" marker-mid="url(#m4)" marker-end="url(#m4)" points="107.75,423.5 112.04,410.1 116.33,406.5 120.62,410.6 124.91,411.8 129.20,418.7 133.50,408.7 137.79,411.5 142.08,412.7 146.37,416.3 150.66,407.4 154.95,404.9 159.24,410.3 163.53,407.1 167.82,404.4 172.12,402.8 176.41,411.3 180.70,414.1 184.99,415.4 189.28,412.7 193.57,409.3 197.86,406.9 202.15,415.4 206.44,411.8 210.73,419.0 215.02,404.8 219.32,415.2 223.61,410.5 227.90,417.3 232.19,414.6 236.48,417.1 240.77,402.0 245.06,410.5 249.35,413.8 253.64,418.7 257.93,416.6 262.23,409.2 266.52,402.3 270.81,421.7 275.10,418.5 279.39,62.7 283.68,70.7 287.97,84.3 292.26,71.8 296.55,68.5 300.84,94.6 305.14,81.1 309.43,77.5 313.72,81.1 318.01,98.3 322.30,76.0 326.59,96.5 330.88,113.1 335.17,100.1 339.46,123.4 343.75,108.6 348.05,132.1 352.34,117.4 356.63,133.5 360.92,122.2 365.21,129.7 369.50,136.3 373.79,143.5 378.08,139.5 382.37,165.4 386.66,152.8 390.96,157.2 395.25,160.5 399.54,163.2 403.83,150.8 408.12,176.1 412.41,176.7 416.70,184.7 420.99,182.1 425.28,204.1 429.57,191.3 433.87,206.8 438.16,218.5 442.45,218.1 446.74,219.2 451.03,222.7 455.32,228.9 459.61,230.8 463.90,239.8 468.19,245.6 472.48,259.9 476.78,255.4 481.07,259.6 485.36,271.9 489.65,284.5 493.94,289.4 498.23,284.7 502.52,301.5 506.81,309.8 511.10,318.8 515.39,321.6 519.69,336.0 523.98,346.9 528.27,359.8 532.56,365.1 536.85,372.2 541.14,389.2 545.43,396.6 549.72,411.6 554.01,411.8 558.30,411.6 562.60,412.5 566.89,406.3 571.18,409.7 575.47,416.4 579.76,411.9 584.05,413.2 588.34,409.7 592.63,411.6 596.92,410.1 601.21,422.0 605.51,410.4 609.80,404.5 614.09,421.2 618.38,402.7 622.67,410.9 626.96,414.1 631.25,424.1 635.54,405.9 639.83,418.8 644.12,416.0 648.42,409.3 652.71,419.2 657.00,419.0 661.29,420.0 665.58,413.5 669.87,409.1 674.16,410.2 678.45,410.2 682.74,414.9 687.03,411.9 691.33,417.1 695.62,400.2 699.91,411.5 704.20,425.0 708.49,419.5 712.78,402.7 717.07,421.3 721.36,415.5 725.65,410.2 729.94,419.6 734.24,406.0 738.53,402.2 742.82,417.9 747.11,405.7 751.40,418.4"/>
<path class="s" stroke="#bfbf00" d="M107.75 436.6V419.0M112.04 425.0V411.2M116.33 431.0V411.3M120.62 429.1V416.5M124.91 430.0V407.5M129.20 436.4V422.0M133.50 432.0V418.1M137.79 427.3V419.5M142.08 427.7V408.0M146.37 431.3V407.7M150.66 426.0V408.6M154.95 426.6V420.9M159.24 432.7V411.9M163.53 437.3V409.9M167.82 430.4V422.9M172.12 428.6V417.9M176.41 432.7V408.7M180.70 427.1V408.3M184.99 430.0V411.1M189.28 427.1V409.3M193.57 426.8V410.7M197.86 426.9V411.8M202.15 431.6V413.4M206.44 431.7V418.2M210.73 428.5V414.3M215.02 429.4V415.3M219.32 432.2V398.2M223.61 426.8V411.1M227.90 432.6V412.8M232.19 430.1V414.2M236.48 426.3V413.5M240.77 427.7V414.5M245.06 431.8V409.3M249.35 430.1V412.9M253.64 428.3V407.7M257.93 432.6V417.1M262.23 427.4V410.5M266.52 425.1V407.2M270.81 430.2V420.0M275.10 431.3V411.7M279.39 86.4V58.6M283.68 80.1V67.9M287.97 89.2V73.0M292.26 94.5V89.9M296.55 88.4V64.6M300.84 112.7V88.4M305.14 107.0V95.0M309.43 105.9V80.5M313.72 116.8V108.2M318.01 121.8V85.0M322.30 122.8V93.8M326.59 119.5V96.1M330.88 126.2V107.0M335.17 126.2V120.6M339.46 135.6V130.5M343.75 132.8V103.5M348.05 136.7V124.9M352.34 145.8V129.1M356.63 160.1V114.2M360.92 153.7V137.8M365.21 157.0V138.1M369.50 156.2V142.0M373.79 167.4V145.1M378.08 166.6V156.0M382.37 170.0V156.1M386.66 182.0V146.7M390.96 176.1V154.8M395.25 188.3V183.7M399.54 185.3V180.5M403.83 188.2V170.6M408.12 192.3V177.4M412.41 196.1V183.2M416.70 196.7V180.1M420.99 207.0V198.9M425.28 208.7V188.7M429.57 215.9V198.5M433.87 214.8V201.3M438.16 223.8V207.4M442.45 227.5V209.7M446.74 229.6V219.5M451.03 236.1V225.8M455.32 241.3V225.5M459.61 245.4V233.4M463.90 251.7V244.7M468.19 255.1V240.0M472.48 264.5V246.4M476.78 267.8V251.6M481.07 273.5V263.3M485.36 286.5V268.8M489.65 290.6V278.5M493.94 299.4V287.9M498.23 301.5V291.1M502.52 308.5V298.4M506.81 320.4V309.8M511.10 325.1V308.2M515.39 337.3V330.9M519.69 348.5V336.9M523.98 354.5V346.2M528.27 366.0V348.6M532.56 377.9V365.7M536.85 390.3V377.5M541.14 400.3V392.7M545.43 416.0V405.7M549.72 426.5V421.0M554.01 431.8V406.4M558.30 426.0V408.9M562.60 430.5V406.5M566.89 431.2V416.9M571.18 428.8V397.0M575.47 423.5V418.9M579.76 430.3V425.7M584.05 427.0V414.6M588.34 425.4V411.9M592.63 424.4V408.0M596.92 427.9V419.1M601.21 426.6V409.0M605.51 423.9V402.0M609.80 435.5V418.1M614.09 430.5V417.4M618.38 429.8V423.5M622.67 433.7V411.2M626.96 424.2V407.4M631.25 428.7V407.9M635.54 433.5V407.5M639.83 426.1V403.8M644.12 426.5V411.9M648.42 429.1V406.8M652.71 428.5V418.7M657.00 429.3V417.7M661.29 430.3V411.2M665.58 426.5V417.9M669.87 424.9V409.2M674.16 424.7V404.1M678.45 427.4V410.2M682.74 430.3V417.4M687.03 426.8V417.5M691.33 431.5V404.2M695.62 433.3V417.8M699.91 432.9V412.2M704.20 431.0V414.4M708.49 429.4V412.4M712.78 427.1V405.9M717.07 429.0V416.1M721.36 427.2V421.6M725.65 434.2V403.6M729.94 430.4V411.3M734.24 424.7V408.2M738.53 431.5V412.9M742.82 430.1V407.9M747.11 433.1V404.8M751.40 430.5V404.2"/>
<polyline class="m" marker-start="url(#m5)" marker-mid="url(#m5)" marker-end="url(#m5)" points="107.75,419.0 112.04,411.2 116.33,411.3 120.62,416.5 124.91,407.5 129.20,422.0 133.50,418.1 137.79,419.5 142.08,408.0 146.37,407.7 150.66,408.6 154.95,420.9 159.24,411.9 163.53,409.9 167.82,422.9 172.12,417.9 176.41,408.7 180.70,408.3 184.99,411.1 189.28,409.3 193.57,410.7 197.86,411.8 202.15,413.4 206.44,418.2 210.73,414.3 215.02,415.3 219.32,398.2 223.61,411.1 227.90,412.8 232.19,414.2 236.48,413.5 240.77,414.5 245.06,409.3 249.35,412.9 253.64,407.7 257.93,417.1 262.23,410.5 266.52,407.2 270.81,420.0 275.10,411.7 279.39,58.6 283.68,67.9 287.97,73.0 292.26,89.9 296.55,64.6 300.84,88.4 305.14,95.0 309.43,80.5 313.72,108.2 318.01,85.0 322.30,93.8 326.59,96.1 330.88,107.0 335.17,120.6 339.46,130.5 343.75,103.5 348.05,124.9 352.34,129.1 356.63,114.2 360.92,137.8 365.21,138.1 369.50,142.0 373.79,145.1 378.08,156.0 382.37,156.1 386.66,146.7 390.96,154.8 395.25,183.7 399.54,180.5 403.83,170.6 408.12,177.4 412.41,183.2 416.70,180.1 420.99,198.9 425.28,188.7 429.57,198.5 433.87,201.3 438.16,207.4 442.45,209.7 446.74,219.5 451.03,225.8 455.32,225.5 459.61,233.4 463.90,244.7 468.19,240.0 472.48,246.4 476.78,251.6 481.07,263.3 485.36,268.8 489.65,278.5 493.94,287.9 498.23,291.1 502.52,298.4 506.81,309.8 511.10,308.2 515.39,330.9 519.69,336.9 523.98,346.2 528.27,348.6 532.56,365.7 536.85,377.5 541.14,392.7 545.43,405.7 549.72,421.0 554.01,406.4 558.30,408.9 562.60,406.5 566.89,416.9 571.18,397.0 575.47,418.9 579.76,425.7 584.05,414.6 588.34,411.9 592.63,408.0 596.92,419.1 601.21,409.0 605.51,402.0 609.80,418.1 614.09,417.4 618.38,423.5 622.67,411.2 626.96,407.4 631.25,407.9 635.54,407.5 639.83,403.8 644.12,411.9 648.42,406.8 652.71,418.7 657.00,417.7 661.29,411.2 665.58,417.9 669.87,409.2 674.16,404.1 678.45,410.2 682.74,417.4 687.03,417.5 691.33,404.2 695.62,417.8 699.91,412.2 704.20,414.4 708.49,412.4 712.78,405.9 717.07,416.1 721.36,421.6 725.65,403.6 729.94,411.3 734.24,408.2 738.53,412.9 742.82,407.9 747.11,404.8 751.40,404.2"/>
<path class="s" stroke="#404040" d="M107.75 436.6V414.5M112.04 425.0V415.0M116.33 431.0V410.3M120.62 429.1V411.4M124.91 430.0V409.2M129.20 436.4V417.2M133.50 432.0V427.4M137.79 427.3V409.9M142.08 427.7V407.8M146.37 431.3V408.7M150.66 426.0V402.3M154.95 426.6V407.4M159.24 432.7V415.2M163.53 437.3V406.6M167.82 430.4V413.3M172.12 428.6V404.9M176.41 432.7V411.3M180.70 427.1V409.9M184.99 430.0V411.3M189.28 427.1V412.4M193.57 426.8V422.2M197.86 426.9V412.4M202.15 431.6V427.0M206.44 431.7V409.6M210.73 428.5V406.5M215.02 429.4V399.9M219.32 432.2V410.4M223.61 426.8V417.3M227.90 432.6V422.7M232.19 430.1V400.5M236.48 426.3V421.7M240.77 427.7V407.1M245.06 431.8V427.2M249.35 430.1V413.1M253.64 428.3V408.5M257.93 432.6V410.7M262.23 427.4V413.0M266.52 425.1V417.9M270.81 430.2V418.4M275.10 431.3V406.4M279.39 86.4V56.8M283.68 80.1V66.2M287.97 89.2V66.3M292.26 94.5V80.9M296.55 88.4V65.9M300.84 112.7V67.2M305.14 107.0V90.6M309.43 105.9V85.8M313.72 116.8V80.4M318.01 121.8V100.4M322.30 122.8V78.5M326.59 119.5V87.4M330.88 126.2V108.1M335.17 126.2V100.1M339.46 135.6V97.7M343.75 132.8V128.2M348.05 136.7V115.0M352.34 145.8V125.8M356.63 160.1V130.2M360.92 153.7V125.9M365.21 157.0V140.2M369.50 156.2V151.6M373.79 167.4V155.4M378.08 166.6V148.1M382.37 170.0V147.2M386.66 182.0V156.1M390.96 176.1V161.1M395.25 188.3V164.4M399.54 185.3V160.3M403.83 188.2V169.4M408.12 192.3V181.0M412.41 196.1V182.7M416.70 196.7V179.2M420.99 207.0V192.8M425.28 208.7V196.4M429.57 215.9V199.2M433.87 214.8V208.5M438.16 223.8V204.6M442.45 227.5V222.9M446.74 229.6V212.2M451.03 236.1V225.3M455.32 241.3V234.0M459.61 245.4V233.0M463.90 251.7V246.5M468.19 255.1V243.2M472.48 264.5V248.2M476.78 267.8V259.7M481.07 273.5V265.2M485.36 286.5V266.4M489.65 290.6V279.6M493.94 299.4V283.9M498.23 301.5V290.0M502.52 308.5V292.8M506.81 320.4V309.1M511.10 325.1V315.4M515.39 337.3V319.8M519.69 348.5V343.9M523.98 354.5V344.5M528.27 366.0V361.4M532.56 377.9V372.1M536.85 390.3V368.4M541.14 400.3V387.5M545.43 416.0V393.3M549.72 426.5V414.3M554.01 431.8V409.4M558.30 426.0V415.5M562.60 430.5V416.2M566.89 431.2V413.2M571.18 428.8V411.9M575.47 423.5V403.1M579.76 430.3V414.0M584.05 427.0V410.4M588.34 425.4V414.4M592.63 424.4V411.8M596.92 427.9V421.0M601.21 426.6V405.9M605.51 423.9V416.0M609.80 435.5V412.5M614.09 430.5V414.1M618.38 429.8V406.6M622.67 433.7V409.5M626.96 424.2V412.7M631.25 428.7V411.6M635.54 433.5V410.6M639.83 426.1V408.0M644.12 426.5V409.6M648.42 429.1V404.7M652.71 428.5V402.6M657.00 429.3V408.9M661.29 430.3V421.1M665.58 426.5V401.8M669.87 424.9V399.2M674.16 424.7V415.0M678.45 427.4V415.4M682.74 430.3V425.7M687.03 426.8V407.9M691.33 431.5V419.1M695.62 433.3V401.2M699.91 432.9V428.3M704.20 431.0V412.3M708.49 429.4V408.5M712.78 427.1V415.3M717.07 429.0V417.8M721.36 427.2V411.2M725.65 434.2V416.1M729.94 430.4V414.9M734.24 424.7V413.0M738.53 431.5V416.3M742.82 430.1V414.2M747.11 433.1V407.8M751.40 430.5V415.2"/>
<polyline class="m" marker-start="url(#m6)" marker-mid="url(#m6)" marker-end="url(#m6)" points="107.75,414.5 112.04,415.0 116.33,410.3 120.62,411.4 124.91,409.2 129.20,417.2 133.50,427.4 137.79,409.9 142.08,407.8 146.37,408.7 150.66,402.3 154.95,407.4 159.24,415.2 163.53,406.6 167.82,413.3 172.12,404.9 176.41,411.3 180.70,409.9 184.99,411.3 189.28,412.4 193.57,422.2 197.86,412.4 202.15,427.0 206.44,409.6 210.73,406.5 215.02,399.9 219.32,410.4 223.61,417.3 227.90,422.7 232.19,400.5 236.48,421.7 240.77,407.1 245.06,427.2 249.35,413.1 253.64,408.5 257.93,410.7 262.23,413.0 266.52,417.9 270.81,418.4 275.10,406.4 279.39,56.8 283.68,66.2 287.97,66.3 292.26,80.9 296.55,65.9 300.84,67.2 305.14,90.6 309.43,85.8 313.72,80.4 318.01,100.4 322.30,78.5 326.59,87.4 330.88,108.1 335.17,100.1 339.46,97.7 343.75,128.2 348.05,115.0 352.34,125.8 356.63,130.2 360.92,125.9 365.21,140.2 369.50,151.6 373.79,155.4 378.08,148.1 382.37,147.2 386.66,156.1 390.96,161.1 395.25,164.4 399.54,160.3 403.83,169.4 408.12,181.0 412.41,182.7 416.70,179.2 420.99,192.8 425.28,196.4 429.57,199.2 433.87,208.5 438.16,204.6 442.45,222.9 446.74,212.2 451.03,225.3 455.32,234.0 459.61,233.0 463.90,246.5 468.19,243.2 472.48,248.2 476.78,259.7 481.07,265.2 485.36,266.4 489.65,279.6 493.94,283.9 498.23,290.0 502.52,292.8 506.81,309.1 511.10,315.4 515.39,319.8 519.69,343.9 523.98,344.5 528.27,361.4 532.56,372.1 536.85,368.4 541.14,387.5 545.43,393.3 549.72,414.3 554.01,409.4 558.30,415.5 562.60,416.2 566.89,413.2 571.18,411.9 575.47,403.1 579.76,414.0 584.05,410.4 588.34,414.4 592.63,411.8 596.92,421.0 601.21,405.9 605.51,416.0 609.80,412.5 614.09,414.1 618.38,406.6 622.67,409.5 626.96,412.7 631.25,411.6 635.54,410.6 639.83,408.0 644.12,409.6 648.42,404.7 652.71,402.6 657.00,408.9 661.29,421.1 665.58,401.8 669.87,399.2 674.16,415.0 678.45,415.4 682.74,425.7 687.03,407.9 691.33,419.1 695.62,401.2 699.91,428.3 704.20,412.3 708.49,408.5 712.78,415.3 717.07,417.8 721.36,411.2 725.65,416.1 729.94,414.9 734.24,413.0 738.53,416.3 742.82,414.2 747.11,407.8 751.40,415.2"/>
<path class="s" stroke="#0000ff" d="M107.75 436.6V411.7M112.04 425.0V417.5M116.33 431.0V407.0M120.62 429.1V420.8M124.91 430.0V406.7M129.20 436.4V431.8M133.50 432.0V418.5M137.79 427.3V422.7M142.08 427.7V406.4M146.37 431.3V411.1M150.66 426.0V421.0M154.95 426.6V416.4M159.24 432.7V404.3M163.53 437.3V413.2M167.82 430.4V409.3M172.12 428.6V422.3M176.41 432.7V422.3M180.70 427.1V409.3M184.99 430.0V398.4M189.28 427.1V416.3M193.57 426.8V409.2M197.86 426.9V418.8M202.15 431.6V405.0M206.44 431.7V415.8M210.73 428.5V415.6M215.02 429.4V424.8M219.32 432.2V415.5M223.61 426.8V411.8M227.90 432.6V404.3M232.19 430.1V420.3M236.48 426.3V406.8M240.77 427.7V415.1M245.06 431.8V414.8M249.35 430.1V418.9M253.64 428.3V423.7M257.93 432.6V420.6M262.23 427.4V402.8M266.52 425.1V420.5M270.81 430.2V415.8M275.10 431.3V406.1M279.39 86.4V81.8M283.68 80.1V60.8M287.97 89.2V73.7M292.26 94.5V70.7M296.55 88.4V67.9M300.84 112.7V81.4M305.14 107.0V85.5M309.43 105.9V80.3M313.72 116.8V84.9M318.01 121.8V101.7M322.30 122.8V100.3M326.59 119.5V114.9M330.88 126.2V93.8M335.17 126.2V121.0M339.46 135.6V111.8M343.75 132.8V101.3M348.05 136.7V113.8M352.34 145.8V127.5M356.63 160.1V135.2M360.92 153.7V138.1M365.21 157.0V128.6M369.50 156.2V137.5M373.79 167.4V144.3M378.08 166.6V128.0M382.37 170.0V158.5M386.66 182.0V159.8M390.96 176.1V162.9M395.25 188.3V163.0M399.54 185.3V166.6M403.83 188.2V174.3M408.12 192.3V172.8M412.41 196.1V178.4M416.70 196.7V187.3M420.99 207.0V202.4M425.28 208.7V190.9M429.57 215.9V203.6M433.87 214.8V206.9M438.16 223.8V209.4M442.45 227.5V219.0M446.74 229.6V222.1M451.03 236.1V223.5M455.32 241.3V230.5M459.61 245.4V233.2M463.90 251.7V243.4M468.19 255.1V246.7M472.48 264.5V255.9M476.78 267.8V258.8M481.07 273.5V262.8M485.36 286.5V271.5M489.65 290.6V283.1M493.94 299.4V285.1M498.23 301.5V291.1M502.52 308.5V294.9M506.81 320.4V307.6M511.10 325.1V317.5M515.39 337.3V329.4M519.69 348.5V326.0M523.98 354.5V347.6M528.27 366.0V358.7M532.56 377.9V365.6M536.85 390.3V383.9M541.14 400.3V383.8M545.43 416.0V400.9M549.72 426.5V410.2M554.01 431.8V419.4M558.30 426.0V416.4M562.60 430.5V407.9M566.89 431.2V407.6M571.18 428.8V395.4M575.47 423.5V406.3M579.76 430.3V425.1M584.05 427.0V412.6M588.34 425.4V415.5M592.63 424.4V406.3M596.92 427.9V413.7M601.21 426.6V410.1M605.51 423.9V415.1M609.80 435.5V409.3M614.09 430.5V403.9M618.38 429.8V417.0M622.67 433.7V425.9M626.96 424.2V419.6M631.25 428.7V403.3M635.54 433.5V411.7M639.83 426.1V415.0M644.12 426.5V419.2M648.42 429.1V406.5M652.71 428.5V411.3M657.00 429.3V413.8M661.29 430.3V416.5M665.58 426.5V414.1M669.87 424.9V415.1M674.16 424.7V409.5M678.45 427.4V405.1M682.74 430.3V425.4M687.03 426.8V422.2M691.33 431.5V413.7M695.62 433.3V412.6M699.91 432.9V422.8M704.20 431.0V417.0M708.49 429.4V415.6M712.78 427.1V415.9M717.07 429.0V416.0M721.36 427.2V413.6M725.65 434.2V407.5M729.94 430.4V408.4M734.24 424.7V409.4M738.53 431.5V411.4M742.82 430.1V417.6M747.11 433.1V416.1M751.40 430.5V408.7"/>
<polyline class="m" marker-start="url(#m0)" marker-mid="url(#m0)" marker-end="url(#m0)" points="107.75,411.7 112.04,417.5 116.33,407.0 120.62,420.8 124.91,406.7 129.20,431.8 133.50,418.5 137.79,422.7 142.08,406.4 146.37,411.1 150.66,421.0 154.95,416.4 159.24,404.3 163.53,413.2 167.82,409.3 172.12,422.3 176.41,422.3 180.70,409.3 184.99,398.4 189.28,416.3 193.57,409.2 197.86,418.8 202.15,405.0 206.44,415.8 210.73,415.6 215.02,424.8 219.32,415.5 223.61,411.8 227.90,404.3 232.19,420.3 236.48,406.8 240.77,415.1 245.06,414.8 249.35,418.9 253.64,423.7 257.93,420.6 262.23,402.8 266.52,420.5 270.81,415.8 275.10,406.1 279.39,81.8 283.68,60.8 287.97,73.7 292.26,70.7 296.55,67.9 300.84,81.4 305.14,85.5 309.43,80.3 313.72,84.9 318.01,101.7 322.30,100.3 326.59,114.9 330.88,93.8 335.17,121.0 339.46,111.8 343.75,101.3 348.05,113.8 352.34,127.5 356.63,135.2 360.92,138.1 365.21,128.6 369.50,137.5 373.79,144.3 378.08,128.0 382.37,158.5 386.66,159.8 390.96,162.9 395.25,163.0 399.54,166.6 403.83,174.3 408.12,172.8 412.41,178.4 416.70,187.3 420.99,202.4 425.28,190.9 429.57,203.6 433.87,206.9 438.16,209.4 442.45,219.0 446.74,222.1 451.03,223.5 455.32,230.5 459.61,233.2 463.90,243.4 468.19,246.7 472.48,255.9 476.78,258.8 481.07,262.8 485.36,271.5 489.65,283.1 493.94,285.1 498.23,291.1 502.52,294.9 506.81,307.6 511.10,317.5 515.39,329.4 519.69,326.0 523.98,347.6 528.27,358.7 532.56,365.6 536.85,383.9 541.14,383.8 545.43,400.9 549.72,410.2 554.01,419.4 558.30,416.4 562.60,407.9 566.89,407.6 571.18,395.4 575.47,406.3 579.76,425.1 584.05,412.6 588.34,415.5 592.63,406.3 596.92,413.7 601.21,410.1 605.51,415.1 609.80,409.3 614.09,403.9 618.38,417.0 622.67,425.9 626.96,419.6 631.25,403.3 635.54,411.7 639.83,415.0 644.12,419.2 648.42,406.5 652.71,411.3 657.00,413.8 661.29,416.5 665.58,414.1 669.87,415.1 674.16,409.5 678.45,405.1 682.74,425.4 687.03,422.2 691.33,413.7 695.62,412.6 699.91,422.8 704.20,417.0 708.49,415.6 712.78,415.9 717.07,416.0 721.36,413.6 725.65,407.5 729.94,408.4 734.24,409.4 738.53,411.4 742.82,417.6 747.11,416.1 751.40,408.7"/>
<path class="s" stroke="#008000" d="M107.75 436.6V412.4M112.04 425.0V408.1M116.33 431.0V411.4M120.62 429.1V412.7M124.91 430.0V410.3M129.20 436.4V422.8M133.50 432.0V414.1M137.79 427.3V416.8M142.08 427.7V407.8M146.37 431.3V417.3M150.66 426.0V411.6M154.95 426.6V415.8M159.24 432.7V410.1M163.53 437.3V408.6M167.82 430.4V414.4M172.12 428.6V412.5M176.41 432.7V412.0M180.70 427.1V408.3M184.99 430.0V415.2M189.28 427.1V412.9M193.57 426.8V415.8M197.86 426.9V419.2M202.15 431.6V412.1M206.44 431.7V410.5M210.73 428.5V418.3M215.02 429.4V403.3M219.32 432.2V417.9M223.61 426.8V408.5M227.90 432.6V410.9M232.19 430.1V423.9M236.48 426.3V413.4M240.77 427.7V423.1M245.06 431.8V413.9M249.35 430.1V409.0M253.64 428.3V401.6M257.93 432.6V408.3M262.23 427.4V422.8M266.52 425.1V415.4M270.81 430.2V403.8M275.10 431.3V412.1M279.39 86.4V44.7M283.68 80.1V72.4M287.97 89.2V74.5M292.26 94.5V85.8M296.55 88.4V80.2M300.84 112.7V68.0M305.14 107.0V92.8M309.43 105.9V79.5M313.72 116.8V86.9M318.01 121.8V87.4M322.30 122.8V101.2M326.59 119.5V102.3M330.88 126.2V86.1M335.17 126.2V121.6M339.46 135.6V106.8M343.75 132.8V103.6M348.05 136.7V117.2M352.34 145.8V110.3M356.63 160.1V155.5M360.92 153.7V135.6M365.21 157.0V146.8M369.50 156.2V144.2M373.79 167.4V145.5M378.08 166.6V144.9M382.37 170.0V159.0M386.66 182.0V150.3M390.96 176.1V171.5M395.25 188.3V158.5M399.54 185.3V170.5M403.83 188.2V183.6M408.12 192.3V187.4M412.41 196.1V191.5M416.70 196.7V191.2M420.99 207.0V189.9M425.28 208.7V188.7M429.57 215.9V196.0M433.87 214.8V210.2M438.16 223.8V219.2M442.45 227.5V215.2M446.74 229.6V225.0M451.03 236.1V224.8M455.32 241.3V232.1M459.61 245.4V224.1M463.90 251.7V247.1M468.19 255.1V244.6M472.48 264.5V244.3M476.78 267.8V259.5M481.07 273.5V267.3M485.36 286.5V264.0M489.65 290.6V286.0M493.94 299.4V291.5M498.23 301.5V296.9M502.52 308.5V298.0M506.81 320.4V304.6M511.10 325.1V316.6M515.39 337.3V316.1M519.69 348.5V335.0M523.98 354.5V344.0M528.27 366.0V355.6M532.56 377.9V360.3M536.85 390.3V376.7M541.14 400.3V391.0M545.43 416.0V392.8M549.72 426.5V405.3M554.01 431.8V407.1M558.30 426.0V421.4M562.60 430.5V420.2M566.89 431.2V414.9M571.18 428.8V415.0M575.47 423.5V416.1M579.76 430.3V414.7M584.05 427.0V409.2M588.34 425.4V419.7M592.63 424.4V411.7M596.92 427.9V415.8M601.21 426.6V416.3M605.51 423.9V415.0M609.80 435.5V408.5M614.09 430.5V411.4M618.38 429.8V418.1M622.67 433.7V411.1M626.96 424.2V412.3M631.25 428.7V410.5M635.54 433.5V414.7M639.83 426.1V406.7M644.12 426.5V410.6M648.42 429.1V420.2M652.71 428.5V421.1M657.00 429.3V421.9M661.29 430.3V410.4M665.58 426.5V417.3M669.87 424.9V415.1M674.16 424.7V413.3M678.45 427.4V405.1M682.74 430.3V399.1M687.03 426.8V413.6M691.33 431.5V400.2M695.62 433.3V409.4M699.91 432.9V405.2M704.20 431.0V414.6M708.49 429.4V420.6M712.78 427.1V409.7M717.07 429.0V404.6M721.36 427.2V422.6M725.65 434.2V413.2M729.94 430.4V411.4M734.24 424.7V409.0M738.53 431.5V419.6M742.82 430.1V416.3M747.11 433.1V406.9M751.40 430.5V401.4"/>
<polyline class="m" marker-start="url(#m1)" marker-mid="url(#m1)" marker-end="url(#m1)" points="107.75,412.4 112.04,408.1 116.33,411.4 120.62,412.7 124.91,410.3 129.20,422.8 133.50,414.1 137.79,416.8 142.08,407.8 146.37,417.3 150.66,411.6 154.95,415.8 159.24,410.1 163.53,408.6 167.82,414.4 172.12,412.5 176.41,412.0 180.70,408.3 184.99,415.2 189.28,412.9 193.57,415.8 197.86,419.2 202.15,412.1 206.44,410.5 210.73,418.3 215.02,403.3 219.32,417.9 223.61,408.5 227.90,410.9 232.19,423.9 236.48,413.4 240.77,423.1 245.06,413.9 249.35,409.0 253.64,401.6 257.93,408.3 262.23,422.8 266.52,415.4 270.81,403.8 275.10,412.1 279.39,44.7 283.68,72.4 287.97,74.5 292.26,85.8 296.55,80.2 300.84,68.0 305.14,92.8 309.43,79.5 313.72,86.9 318.01,87.4 322.30,101.2 326.59,102.3 330.88,86.1 335.17,121.6 339.46,106.8 343.75,103.6 348.05,117.2 352.34,110.3 356.63,155.5 360.92,135.6 365.21,146.8 369.50,144.2 373.79,145.5 378.08,144.9 382.37,159.0 386.66,150.3 390.96,171.5 395.25,158.5 399.54,170.5 403.83,183.6 408.12,187.4 412.41,191.5 416.70,191.2 420.99,189.9 425.28,188.7 429.57,196.0 433.87,210.2 438.16,219.2 442.45,215.2 446.74,225.0 451.03,224.8 455.32,232.1 459.61,224.1 463.90,247.1 468.19,244.6 472.48,244.3 476.78,259.5 481.07,267.3 485.36,264.0 489.65,286.0 493.94,291.5 498.23,296.9 502.52,298.0 506.81,304.6 511.10,316.6 515.39,316.1 519.69,335.0 523.98,344.0 528.27,355.6 532.56,360.3 536.85,376.7 541.14,391.0 545.43,392.8 549.72,405.3 554.01,407.1 558.30,421.4 562.60,420.2 566.89,414.9 571.18,415.0 575.47,416.1 579.76,414.7 584.05,409.2 588.34,419.7 592.63,411.7 596.92,415.8 601.21,416.3 605.51,415.0 609.80,408.5 614.09,411.4 618.38,418.1 622.67,411.1 626.96,412.3 631.25,410.5 635.54,414.7 639.83,406.7 644.12,410.6 648.42,420.2 652.71,421.1 657.00,421.9 661.29,410.4 665.58,417.3 669.87,415.1 674.16,413.3 678.45,405.1 682.74,399.1 687.03,413.6 691.33,400.2 695.62,409.4 699.91,405.2 704.20,414.6 708.49,420.6 712.78,409.7 717.07,404.6 721.36,422.6 725.65,413.2 729.94,411.4 734.24,409.0 738.53,419.6 742.82,416.3 747.11,406.9 751.40,401.4"/>
<path class="s" stroke="#ff0000" d="M107.75 436.6V412.1M112.04 425.0V406.6M116.33 431.0V411.7M120.62 429.1V410.0M124.91 430.0V415.2M129.20 436.4V414.2M133.50 432.0V416.4M137.79 427.3V412.1M142.08 427.7V405.8M146.37 431.3V411.6M150.66 426.0V408.6M154.95 426.6V416.8M159.24 432.7V408.2M163.53 437.3V432.7M167.82 430.4V421.8M172.12 428.6V414.9M176.41 432.7V424.3M180.70 427.1V409.2M184.99 430.0V411.5M189.28 427.1V418.6M193.57 426.8V412.2M197.86 426.9V422.3M202.15 431.6V418.5M206.44 431.7V415.2M210.73 428.5V423.0M215.02 429.4V406.2M219.32 432.2V417.0M223.61 426.8V406.3M227.90 432.6V413.7M232.19 430.1V410.8M236.48 426.3V418.6M240.77 427.7V414.7M245.06 431.8V415.5M249.35 430.1V411.3M253.64 428.3V404.1M257.93 432.6V416.3M262.23 427.4V413.8M266.52 425.1V410.5M270.81 430.2V407.3M275.10 431.3V413.5M279.39 86.4V64.7M283.68 80.1V70.3M287.97 89.2V68.3M292.26 94.5V69.7M296.55 88.4V82.3M300.84 112.7V82.4M305.14 107.0V75.8M309.43 105.9V87.1M313.72 116.8V96.1M318.01 121.8V87.4M322.30 122.8V91.2M326.59 119.5V95.9M330.88 126.2V99.2M335.17 126.2V112.9M339.46 135.6V111.1M343.75 132.8V113.9M348.05 136.7V119.5M352.34 145.8V140.3M356.63 160.1V128.5M360.92 153.7V129.1M365.21 157.0V131.8M369.50 156.2V142.5M373.79 167.4V143.7M378.08 166.6V162.0M382.37 170.0V163.1M386.66 182.0V177.4M390.96 176.1V161.6M395.25 188.3V153.5M399.54 185.3V157.4M403.83 188.2V179.2M408.12 192.3V173.1M412.41 196.1V174.3M416.70 196.7V187.1M420.99 207.0V199.8M425.28 208.7V187.7M429.57 215.9V200.7M433.87 214.8V205.5M438.16 223.8V201.0M442.45 227.5V211.4M446.74 229.6V214.8M451.03 236.1V216.7M455.32 241.3V229.3M459.61 245.4V238.1M463.90 251.7V236.5M468.19 255.1V245.3M472.48 264.5V248.2M476.78 267.8V255.6M481.07 273.5V266.6M485.36 286.5V269.9M489.65 290.6V278.2M493.94 299.4V284.8M498.23 301.5V291.4M502.52 308.5V297.5M506.81 320.4V306.1M511.10 325.1V320.5M515.39 337.3V321.7M519.69 348.5V339.3M523.98 354.5V334.4M528.27 366.0V356.7M532.56 377.9V364.8M536.85 390.3V370.7M541.14 400.3V389.2M545.43 416.0V408.2M549.72 426.5V421.5M554.01 431.8V410.7M558.30 426.0V409.9M562.60 430.5V407.2M566.89 431.2V410.8M571.18 428.8V415.5M575.47 423.5V409.5M579.76 430.3V403.4M584.05 427.0V417.5M588.34 425.4V390.0M592.63 424.4V415.1M596.92 427.9V404.6M601.21 426.6V400.6M605.51 423.9V406.7M609.80 435.5V410.6M614.09 430.5V407.9M618.38 429.8V404.1M622.67 433.7V429.1M626.96 424.2V409.6M631.25 428.7V415.0M635.54 433.5V416.9M639.83 426.1V411.8M644.12 426.5V411.4M648.42 429.1V409.4M652.71 428.5V416.2M657.00 429.3V405.4M661.29 430.3V425.7M665.58 426.5V418.7M669.87 424.9V420.3M674.16 424.7V412.0M678.45 427.4V415.8M682.74 430.3V409.3M687.03 426.8V417.6M691.33 431.5V404.6M695.62 433.3V408.0M699.91 432.9V416.0M704.20 431.0V423.4M708.49 429.4V420.2M712.78 427.1V422.5M717.07 429.0V404.9M721.36 427.2V408.0M725.65 434.2V420.7M729.94 430.4V400.9M734.24 424.7V414.6M738.53 431.5V426.9M742.82 430.1V405.9M747.11 433.1V404.5M751.40 430.5V412.7"/>
<polyline class="m" marker-start="url(#m2)" marker-mid="url(#m2)" marker-end="url(#m2)" points="107.75,412.1 112.04,406.6 116.33,411.7 120.62,410.0 124.91,415.2 129.20,414.2 133.50,416.4 137.79,412.1 142.08,405.8 146.37,411.6 150.66,408.6 154.95,416.8 159.24,408.2 163.53,432.7 167.82,421.8 172.12,414.9 176.41,424.3 180.70,409.2 184.99,411.5 189.28,418.6 193.57,412.2 197.86,422.3 202.15,418.5 206.44,415.2 210.73,423.0 215.02,406.2 219.32,417.0 223.61,406.3 227.90,413.7 232.19,410.8 236.48,418.6 240.77,414.7 245.06,415.5 249.35,411.3 253.64,404.1 257.93,416.3 262.23,413.8 266.52,410.5 270.81,407.3 275.10,413.5 279.39,64.7 283.68,70.3 287.97,68.3 292.26,69.7 296.55,82.3 300.84,82.4 305.14,75.8 309.43,87.1 313.72,96.1 318.01,87.4 322.30,91.2 326.59,95.9 330.88,99.2 335.17,112.9 339.46,111.1 343.75,113.9 348.05,119.5 352.34,140.3 356.63,128.5 360.92,129.1 365.21,131.8 369.50,142.5 373.79,143.7 378.08,162.0 382.37,163.1 386.66,177.4 390.96,161.6 395.25,153.5 399.54,157.4 403.83,179.2 408.12,173.1 412.41,174.3 416.70,187.1 420.99,199.8 425.28,187.7 429.57,200.7 433.87,205.5 438.16,201.0 442.45,211.4 446.74,214.8 451.03,216.7 455.32,229.3 459.61,238.1 463.90,236.5 468.19,245.3 472.48,248.2 476.78,255.6 481.07,266.6 485.36,269.9 489.65,278.2 493.94,284.8 498.23,291.4 502.52,297.5 506.81,306.1 511.10,320.5 515.39,321.7 519.69,339.3 523.98,334.4 528.27,356.7 532.56,364.8 536.85,370.7 541.14,389.2 545.43,408.2 549.72,421.5 554.01,410.7 558.30,409.9 562.60,407.2 566.89,410.8 571.18,415.5 575.47,409.5 579.76,403.4 584.05,417.5 588.34,390.0 592.63,415.1 596.92,404.6 601.21,400.6 605.51,406.7 609.80,410.6 614.09,407.9 618.38,404.1 622.67,429.1 626.96,409.6 631.25,415.0 635.54,416.9 639.83,411.8 644.12,411.4 648.42,409.4 652.71,416.2 657.00,405.4 661.29,425.7 665.58,418.7 669.87,420.3 674.16,412.0 678.45,415.8 682.74,409.3 687.03,417.6 691.33,404.6 695.62,408.0 699.91,416.0 704.20,423.4 708.49,420.2 712.78,422.5 717.07,404.9 721.36,408.0 725.65,420.7 729.94,400.9 734.24,414.6 738.53,426.9 742.82,405.9 747.11,404.5 751.40,412.7"/>
<path class="s" stroke="#00bfbf" d="M107.75 436.6V418.4M112.04 425.0V405.0M116.33 431.0V415.9M120.62 429.1V412.9M124.91 430.0V409.8M129.20 436.4V410.8M133.50 432.0V415.6M137.79 427.3V419.3M142.08 427.7V408.0M146.37 431.3V426.7M150.66 426.0V410.7M154.95 426.6V411.0M159.24 432.7V409.4M163.53 437.3V415.1M167.82 430.4V411.4M172.12 428.6V407.7M176.41 432.7V419.3M180.70 427.1V412.4M184.99 430.0V410.3M189.28 427.1V420.7M193.57 426.8V418.7M197.86 426.9V402.8M202.15 431.6V406.2M206.44 431.7V417.4M210.73 428.5V408.2M215.02 429.4V410.2M219.32 432.2V403.9M223.61 426.8V405.5M227.90 432.6V428.0M232.19 430.1V414.6M236.48 426.3V404.1M240.77 427.7V402.4M245.06 431.8V416.6M249.35 430.1V420.5M253.64 428.3V411.1M257.93 432.6V416.8M262.23 427.4V412.8M266.52 425.1V420.1M270.81 430.2V407.9M275.10 431.3V409.1M279.39 86.4V56.5M283.68 80.1V75.2M287.97 89.2V84.6M292.26 94.5V84.3M296.55 88.4V70.9M300.84 112.7V96.7M305.14 107.0V76.7M309.43 105.9V69.7M313.72 116.8V96.5M318.01 121.8V96.0M322.30 122.8V88.5M326.59 119.5V93.0M330.88 126.2V111.2M335.17 126.2V110.8M339.46 135.6V111.8M343.75 132.8V119.2M348.05 136.7V115.3M352.34 145.8V121.4M356.63 160.1V116.6M360.92 153.7V147.2M365.21 157.0V125.9M369.50 156.2V133.2M373.79 167.4V144.9M378.08 166.6V144.6M382.37 170.0V144.5M386.66 182.0V153.7M390.96 176.1V161.7M395.25 188.3V162.3M399.54 185.3V172.6M403.83 188.2V180.2M408.12 192.3V181.7M412.41 196.1V185.3M416.70 196.7V184.5M420.99 207.0V185.9M425.28 208.7V193.2M429.57 215.9V192.4M433.87 214.8V204.1M438.16 223.8V211.3M442.45 227.5V216.5M446.74 229.6V222.2M451.03 236.1V224.7M455.32 241.3V223.0M459.61 245.4V240.1M463.90 251.7V237.4M468.19 255.1V245.4M472.48 264.5V247.8M476.78 267.8V259.1M481.07 273.5V260.6M485.36 286.5V272.0M489.65 290.6V274.3M493.94 299.4V291.7M498.23 301.5V289.3M502.52 308.5V295.9M506.81 320.4V313.3M511.10 325.1V312.0M515.39 337.3V328.7M519.69 348.5V329.5M523.98 354.5V343.3M528.27 366.0V350.8M532.56 377.9V363.0M536.85 390.3V380.8M541.14 400.3V380.8M545.43 416.0V394.4M549.72 426.5V418.8M554.01 431.8V408.8M558.30 426.0V409.4M562.60 430.5V416.6M566.89 431.2V418.9M571.18 428.8V404.3M575.47 423.5V414.8M579.76 430.3V406.6M584.05 427.0V400.3M588.34 425.4V409.2M592.63 424.4V417.8M596.92 427.9V406.1M601.21 426.6V420.9M605.51 423.9V418.0M609.80 435.5V393.8M614.09 430.5V417.3M618.38 429.8V410.1M622.67 433.7V418.9M626.96 424.2V413.0M631.25 428.7V411.0M635.54 433.5V428.9M639.83 426.1V416.4M644.12 426.5V408.1M648.42 429.1V406.8M652.71 428.5V410.2M657.00 429.3V418.2M661.29 430.3V409.8M665.58 426.5V415.4M669.87 424.9V417.2M674.16 424.7V412.3M678.45 427.4V398.0M682.74 430.3V418.0M687.03 426.8V405.8M691.33 431.5V410.7M695.62 433.3V421.7M699.91 432.9V418.1M704.20 431.0V413.4M708.49 429.4V415.3M712.78 427.1V410.7M717.07 429.0V418.6M721.36 427.2V418.7M725.65 434.2V406.0M729.94 430.4V412.5M734.24 424.7V417.7M738.53 431.5V412.4M742.82 430.1V400.8M747.11 433.1V416.0M751.40 430.5V421.7"/>
<polyline class="m" marker-start="url(#m3)" marker-mid="url(#m3)" marker-end="url(#m3)" points="107.75,418.4 112.04,405.0 116.33,415.9 120.62,412.9 124.91,409.8 129.20,410.8 133.50,415.6 137.79,419.3 142.08,408.0 146.37,426.7 150.66,410.7 154.95,411.0 159.24,409.4 163.53,415.1 167.82,411.4 172.12,407.7 176.41,419.3 180.70,412.4 184.99,410.3 189.28,420.7 193.57,418.7 197.86,402.8 202.15,406.2 206.44,417.4 210.73,408.2 215.02,410.2 219.32,403.9 223.61,405.5 227.90,428.0 232.19,414.6 236.48,404.1 240.77,402.4 245.06,416.6 249.35,420.5 253.64,411.1 257.93,416.8 262.23,412.8 266.52,420.1 270.81,407.9 275.10,409.1 279.39,56.5 283.68,75.2 287.97,84.6 292.26,84.3 296.55,70.9 300.84,96.7 305.14,76.7 309.43,69.7 313.72,96.5 318.01,96.0 322.30,88.5 326.59,93.0 330.88,111.2 335.17,110.8 339.46,111.8 343.75,119.2 348.05,115.3 352.34,121.4 356.63,116.6 360.92,147.2 365.21,125.9 369.50,133.2 373.79,144.9 378.08,144.6 382.37,144.5 386.66,153.7 390.96,161.7 395.25,162.3 399.54,172.6 403.83,180.2 408.12,181.7 412.41,185.3 416.70,184.5 420.99,185.9 425.28,193.2 429.57,192.4 433.87,204.1 438.16,211.3 442.45,216.5 446.74,222.2 451.03,224.7 455.32,223.0 459.61,240.1 463.90,237.4 468.19,245.4 472.48,247.8 476.78,259.1 481.07,260.6 485.36,272.0 489.65,274.3 493.94,291.7 498.23,289.3 502.52,295.9 506.81,313.3 511.10,312.0 515.39,328.7 519.69,329.5 523.98,343.3 528.27,350.8 532.56,363.0 536.85,380.8 541.14,380.8 545.43,394.4 549.72,418.8 554.01,408.8 558.30,409.4 562.60,416.6 566.89,418.9 571.18,404.3 575.47,414.8 579.76,406.6 584.05,400.3 588.34,409.2 592.63,417.8 596.92,406.1 601.21,420.9 605.51,418.0 609.80,393.8 614.09,417.3 618.38,410.1 622.67,418.9 626.96,413.0 631.25,411.0 635.54,428.9 639.83,416.4 644.12,408.1 648.42,406.8 652.71,410.2 657.00,418.2 661.29,409.8 665.58,415.4 669.87,417.2 674.16,412.3 678.45,398.0 682.74,418.0 687.03,405.8 691.33,410.7 695.62,421.7 699.91,418.1 704.20,413.4 708.49,415.3 712.78,410.7 717.07,418.6 721.36,418.7 725.65,406.0 729.94,412.5 734.24,417.7 738.53,412.4 742.82,400.8 747.11,416.0 751.40,421.7"/>
<path class="s" stroke="#bf00bf" d="M107.75 436.6V406.5M112.04 425.0V400.0M116.33 431.0V404.5M120.62 429.1V420.7M124.91 430.0V425.4M129.20 436.4V404.5M133.50 432.0V413.6M137.79 427.3V409.3M142.08 427.7V413.6M146.37 431.3V401.9M150.66 426.0V412.0M154.95 426.6V414.5M159.24 432.7V411.6M163.53 437.3V420.1M167.82 430.4V411.5M172.12 428.6V413.1M176.41 432.7V425.9M180.70 427.1V419.8M184.99 430.0V420.5M189.28 427.1V422.5M193.57 426.8V410.4M197.86 426.9V405.5M202.15 431.6V410.6M206.44 431.7V422.0M210.73 428.5V423.9M215.02 429.4V407.8M219.32 432.2V414.6M223.61 426.8V413.3M227.90 432.6V420.9M232.19 430.1V425.5M236.48 426.3V398.8M240.77 427.7V416.6M245.06 431.8V414.0M249.35 430.1V420.0M253.64 428.3V403.2M257.93 432.6V415.0M262.23 427.4V413.8M266.52 425.1V412.6M270.81 430.2V412.9M275.10 431.3V404.0M279.39 86.4V78.7M283.68 80.1V58.8M287.97 89.2V74.5M292.26 94.5V76.2M296.55 88.4V81.9M300.84 112.7V75.5M305.14 107.0V95.7M309.43 105.9V92.3M313.72 116.8V85.4M318.01 121.8V100.0M322.30 122.8V102.8M326.59 119.5V98.5M330.88 126.2V105.0M335.17 126.2V112.7M339.46 135.6V112.8M343.75 132.8V125.2M348.05 136.7V113.2M352.34 145.8V134.6M356.63 160.1V143.0M360.92 153.7V128.8M365.21 157.0V147.7M369.50 156.2V148.3M373.79 167.4V146.0M378.08 166.6V142.8M382.37 170.0V155.9M386.66 182.0V159.5M390.96 176.1V163.3M395.25 188.3V162.0M399.54 185.3V171.8M403.83 188.2V171.5M408.12 192.3V169.4M412.41 196.1V182.7M416.70 196.7V187.8M420.99 207.0V194.9M425.28 208.7V198.4M429.57 215.9V205.0M433.87 214.8V209.0M438.16 223.8V211.4M442.45 227.5V212.3M446.74 229.6V216.6M451.03 236.1V225.6M455.32 241.3V227.7M459.61 245.4V239.7M463.90 251.7V231.7M468.19 255.1V235.7M472.48 264.5V252.0M476.78 267.8V255.6M481.07 273.5V263.5M485.36 286.5V267.3M489.65 290.6V279.8M493.94 299.4V290.4M498.23 301.5V288.4M502.52 308.5V303.7M506.81 320.4V306.0M511.10 325.1V319.5M515.39 337.3V327.7M519.69 348.5V330.0M523.98 354.5V337.3M528.27 366.0V354.7M532.56 377.9V366.7M536.85 390.3V375.3M541.14 400.3V391.4M545.43 416.0V411.4M549.72 426.5V413.3M554.01 431.8V427.2M558.30 426.0V410.5M562.60 430.5V416.4M566.89 431.2V412.0M571.18 428.8V422.4M575.47 423.5V417.9M579.76 430.3V409.6M584.05 427.0V404.6M588.34 425.4V407.9M592.63 424.4V410.8M596.92 427.9V420.2M601.21 426.6V409.6M605.51 423.9V412.4M609.80 435.5V415.2M614.09 430.5V405.0M618.38 429.8V418.0M622.67 433.7V402.2M626.96 424.2V417.3M631.25 428.7V417.4M635.54 433.5V413.8M639.83 426.1V421.5M644.12 426.5V416.1M648.42 429.1V412.7M652.71 428.5V423.9M657.00 429.3V418.4M661.29 430.3V421.9M665.58 426.5V416.0M669.87 424.9V406.1M674.16 424.7V415.9M678.45 427.4V414.4M682.74 430.3V411.8M687.03 426.8V420.2M691.33 431.5V411.8M695.62 433.3V416.5M699.91 432.9V417.3M704.20 431.0V424.0M708.49 429.4V417.2M712.78 427.1V406.7M717.07 429.0V405.6M721.36 427.2V415.1M725.65 434.2V412.8M729.94 430.4V415.9M734.24 424.7V420.1M738.53 431.5V424.5M742.82 430.1V402.5M747.11 433.1V419.4M751.40 430.5V411.9"/>
<polyline class="m" marker-start="url(#m4)" marker-mid="url(#m4)" marker-end="url(#m4)" points="107.75,406.5 112.04,400.0 116.33,404.5 120.62,420.7 124.91,425.4 129.20,404.5 133.50,413.6 137.79,409.3 142.08,413.6 146.37,401.9 150.66,412.0 154.95,414.5 159.24,411.6 163.53,420.1 167.82,411.5 172.12,413.1 176.41,425.9 180.70,419.8 184.99,420.5 189.28,422.5 193.57,410.4 197.86,405.5 202.15,410.6 206.44,422.0 210.73,423.9 215.02,407.8 219.32,414.6 223.61,413.3 227.90,420.9 232.19,425.5 236.48,398.8 240.77,416.6 245.06,414.0 249.35,420.0 253.64,403.2 257.93,415.0 262.23,413.8 266.52,412.6 270.81,412.9 275.10,404.0 279.39,78.7 283.68,58.8 287.97,74.5 292.26,76.2 296.55,81.9 300.84,75.5 305.14,95.7 309.43,92.3 313.72,85.4 318.01,100.0 322.30,102.8 326.59,98.5 330.88,105.0 335.17,112.7 339.46,112.8 343.75,125.2 348.05,113.2 352.34,134.6 356.63,143.0 360.92,128.8 365.21,147.7 369.50,148.3 373.79,146.0 378.08,142.8 382.37,155.9 386.66,159.5 390.96,163.3 395.25,162.0 399.54,171.8 403.83,171.5 408.12,169.4 412.41,182.7 416.70,187.8 420.99,194.9 425.28,198.4 429.57,205.0 433.87,209.0 438.16,211.4 442.45,212.3 446.74,216.6 451.03,225.6 455.32,227.7 459.61,239.7 463.90,231.7 468.19,235.7 472.48,252.0 476.78,255.6 481.07,263.5 485.36,267.3 489.65,279.8 493.94,290.4 498.23,288.4 502.52,303.7 506.81,306.0 511.10,319.5 515.39,327.7 519.69,330.0 523.98,337.3 528.27,354.7 532.56,366.7 536.85,375.3 541.14,391.4 545.43,411.4 549.72,413.3 554.01,427.2 558.30,410.5 562.60,416.4 566.89,412.0 571.18,422.4 575.47,417.9 579.76,409.6 584.05,404.6 588.34,407.9 592.63,410.8 596.92,420.2 601.21,409.6 605.51,412.4 609.80,415.2 614.09,405.0 618.38,418.0 622.67,402.2 626.96,417.3 631.25,417.4 635.54,413.8 639.83,421.5 644.12,416.1 648.42,412.7 652.71,423.9 657.00,418.4 661.29,421.9 665.58,416.0 669.87,406.1 674.16,415.9 678.45,414.4 682.74,411.8 687.03,420.2 691.33,411.8 695.62,416.5 699.91,417.3 704.20,424.0 708.49,417.2 712.78,406.7 717.07,405.6 721.36,415.1 725.65,412.8 729.94,415.9 734.24,420.1 738.53,424.5 742.82,402.5 747.11,419.4 751.40,411.9"/>
<path class="s" stroke="#bfbf00" d="M107.75 436.6V403.4M112.04 425.0V415.6M116.33 431.0V414.2M120.62 429.1V411.5M124.91 430.0V415.3M129.20 436.4V411.5M133.50 432.0V415.2M137.79 427.3V405.9M142.08 427.7V410.0M146.37 431.3V420.4M150.66 426.0V421.4M154.95 426.6V417.0M159.24 432.7V416.8M163.53 437.3V417.6M167.82 430.4V407.1M172.12 428.6V417.5M176.41 432.7V415.8M180.70 427.1V412.0M184.99 430.0V425.4M189.28 427.1V410.2M193.57 426.8V409.2M197.86 426.9V404.1M202.15 431.6V419.0M206.44 431.7V415.8M210.73 428.5V411.5M215.02 429.4V415.2M219.32 432.2V422.0M223.61 426.8V407.1M227.90 432.6V414.6M232.19 430.1V410.6M236.48 426.3V419.5M240.77 427.7V406.8M245.06 431.8V415.0M249.35 430.1V417.3M253.64 428.3V407.8M257.93 432.6V405.8M262.23 427.4V418.6M266.52 425.1V406.5M270.81 430.2V402.6M275.10 431.3V411.1M279.39 86.4V74.5M283.68 80.1V59.2M287.97 89.2V58.1M292.26 94.5V81.8M296.55 88.4V59.6M300.84 112.7V81.2M305.14 107.0V84.2M309.43 105.9V76.2M313.72 116.8V88.5M318.01 121.8V82.2M322.30 122.8V98.0M326.59 119.5V98.0M330.88 126.2V105.2M335.17 126.2V107.0M339.46 135.6V107.6M343.75 132.8V112.3M348.05 136.7V123.3M352.34 145.8V116.0M356.63 160.1V129.0M360.92 153.7V121.5M365.21 157.0V130.7M369.50 156.2V140.7M373.79 167.4V149.8M378.08 166.6V147.5M382.37 170.0V141.5M386.66 182.0V154.5M390.96 176.1V153.3M395.25 188.3V164.7M399.54 185.3V170.2M403.83 188.2V176.6M408.12 192.3V187.7M412.41 196.1V179.4M416.70 196.7V185.3M420.99 207.0V190.2M425.28 208.7V190.7M429.57 215.9V203.5M433.87 214.8V196.1M438.16 223.8V215.0M442.45 227.5V212.3M446.74 229.6V223.5M451.03 236.1V224.7M455.32 241.3V224.0M459.61 245.4V240.2M463.90 251.7V239.0M468.19 255.1V244.9M472.48 264.5V250.6M476.78 267.8V256.3M481.07 273.5V260.4M485.36 286.5V268.2M489.65 290.6V275.5M493.94 299.4V280.5M498.23 301.5V288.7M502.52 308.5V299.6M506.81 320.4V312.0M511.10 325.1V312.4M515.39 337.3V325.8M519.69 348.5V327.1M523.98 354.5V345.7M528.27 366.0V358.6M532.56 377.9V360.2M536.85 390.3V379.3M541.14 400.3V395.7M545.43 416.0V395.0M549.72 426.5V421.9M554.01 431.8V404.5M558.30 426.0V418.8M562.60 430.5V410.3M566.89 431.2V411.4M571.18 428.8V424.2M575.47 423.5V412.9M579.76 430.3V415.5M584.05 427.0V412.0M588.34 425.4V409.5M592.63 424.4V402.9M596.92 427.9V414.3M601.21 426.6V413.5M605.51 423.9V399.3M609.80 435.5V408.3M614.09 430.5V408.0M618.38 429.8V422.4M622.67 433.7V421.6M626.96 424.2V416.3M631.25 428.7V414.0M635.54 433.5V409.8M639.83 426.1V395.6M644.12 426.5V420.7M648.42 429.1V415.4M652.71 428.5V408.9M657.00 429.3V411.1M661.29 430.3V405.8M665.58 426.5V414.7M669.87 424.9V418.5M674.16 424.7V399.7M678.45 427.4V410.1M682.74 430.3V420.4M687.03 426.8V415.0M691.33 431.5V413.3M695.62 433.3V422.3M699.91 432.9V408.0M704.20 431.0V412.0M708.49 429.4V415.2M712.78 427.1V417.0M717.07 429.0V402.6M721.36 427.2V413.4M725.65 434.2V417.8M729.94 430.4V425.8M734.24 424.7V419.7M738.53 431.5V408.6M742.82 430.1V403.6M747.11 433.1V420.3M751.40 430.5V425.9"/>
<polyline class="m" marker-start="url(#m5)" marker-mid="url(#m5)" marker-end="url(#m5)" points="107.75,403.4 112.04,415.6 116.33,414.2 120.62,411.5 124.91,415.3 129.20,411.5 133.50,415.2 137.79,405.9 142.08,410.0 146.37,420.4 150.66,421.4 154.95,417.0 159.24,416.8 163.53,417.6 167.82,407.1 172.12,417.5 176.41,415.8 180.70,412.0 184.99,425.4 189.28,410.2 193.57,409.2 197.86,404.1 202.15,419.0 206.44,415.8 210.73,411.5 215.02,415.2 219.32,422.0 223.61,407.1 227.90,414.6 232.19,410.6 236.48,419.5 240.77,406.8 245.06,415.0 249.35,417.3 253.64,407.8 257.93,405.8 262.23,418.6 266.52,406.5 270.81,402.6 275.10,411.1 279.39,74.5 283.68,59.2 287.97,58.1 292.26,81.8 296.55,59.6 300.84,81.2 305.14,84.2 309.43,76.2 313.72,88.5 318.01,82.2 322.30,98.0 326.59,98.0 330.88,105.2 335.17,107.0 339.46,107.6 343.75,112.3 348.05,123.3 352.34,116.0 356.63,129.0 360.92,121.5 365.21,130.7 369.50,140.7 373.79,149.8 378.08,147.5 382.37,141.5 386.66,154.5 390.96,153.3 395.25,164.7 399.54,170.2 403.83,176.6 408.12,187.7 412.41,179.4 416.70,185.3 420.99,190.2 425.28,190.7 429.57,203.5 433.87,196.1 438.16,215.0 442.45,212.3 446.74,223.5 451.03,224.7 455.32,224.0 459.61,240.2 463.90,239.0 468.19,244.9 472.48,250.6 476.78,256.3 481.07,260.4 485.36,268.2 489.65,275.5 493.94,280.5 498.23,288.7 502.52,299.6 506.81,312.0 511.10,312.4 515.39,325.8 519.69,327.1 523.98,345.7 528.27,358.6 532.56,360.2 536.85,379.3 541.14,395.7 545.43,395.0 549.72,421.9 554.01,404.5 558.30,418.8 562.60,410.3 566.89,411.4 571.18,424.2 575.47,412.9 579.76,415.5 584.05,412.0 588.34,409.5 592.63,402.9 596.92,414.3 601.21,413.5 605.51,399.3 609.80,408.3 614.09,408.0 618.38,422.4 622.67,421.6 626.96,416.3 631.25,414.0 635.54,409.8 639.83,395.6 644.12,420.7 648.42,415.4 652.71,408.9 657.00,411.1 661.29,405.8 665.58,414.7 669.87,418.5 674.16,399.7 678.45,410.1 682.74,420.4 687.03,415.0 691.33,413.3 695.62,422.3 699.91,408.0 704.20,412.0 708.49,415.2 712.78,417.0 717.07,402.6 721.36,413.4 725.65,417.8 729.94,425.8 734.24,419.7 738.53,408.6 742.82,403.6 747.11,420.3 751.40,425.9"/>
<path class="s" stroke="#404040" d="M107.75 436.6V428.8M112.04 425.0V413.3M116.33 431.0V407.6M120.62 429.1V417.5M124.91 430.0V412.4M129.20 436.4V424.7M133.50 432.0V420.8M137.79 427.3V416.5M142.08 427.7V415.8M146.37 431.3V409.7M150.66 426.0V405.4M154.95 426.6V422.0M159.24 432.7V402.4M163.53 437.3V417.7M167.82 430.4V415.7M172.12 428.6V405.9M176.41 432.7V428.1M180.70 427.1V422.1M184.99 430.0V418.2M189.28 427.1V412.5M193.57 426.8V406.2M197.86 426.9V406.1M202.15 431.6V418.7M206.44 431.7V408.3M210.73 428.5V415.6M215.02 429.4V403.6M219.32 432.2V414.7M223.61 426.8V406.3M227.90 432.6V419.4M232.19 430.1V408.1M236.48 426.3V421.5M240.77 427.7V412.3M245.06 431.8V423.1M249.35 430.1V413.8M253.64 428.3V417.9M257.93 432.6V419.1M262.23 427.4V411.4M266.52 425.1V408.0M270.81 430.2V412.2M275.10 431.3V410.9M279.39 86.4V54.2M283.68 80.1V53.1M287.97 89.2V58.7M292.26 94.5V68.3M296.55 88.4V56.6M300.84 112.7V84.5M305.14 107.0V102.4M309.43 105.9V98.0M313.72 116.8V67.6M318.01 121.8V96.8M322.30 122.8V96.6M326.59 119.5V88.8M330.88 126.2V107.5M335.17 126.2V117.3M339.46 135.6V130.3M343.75 132.8V119.5M348.05 136.7V102.3M352.34 145.8V123.2M356.63 160.1V113.1M360.92 153.7V125.1M365.21 157.0V140.2M369.50 156.2V118.5M373.79 167.4V145.7M378.08 166.6V161.3M382.37 170.0V153.8M386.66 182.0V155.0M390.96 176.1V156.3M395.25 188.3V166.8M399.54 185.3V177.6M403.83 188.2V174.7M408.12 192.3V173.8M412.41 196.1V185.9M416.70 196.7V191.3M420.99 207.0V195.2M425.28 208.7V195.8M429.57 215.9V199.9M433.87 214.8V204.3M438.16 223.8V214.4M442.45 227.5V213.5M446.74 229.6V221.4M451.03 236.1V227.8M455.32 241.3V236.7M459.61 245.4V238.9M463.90 251.7V242.4M468.19 255.1V245.1M472.48 264.5V249.9M476.78 267.8V257.5M481.07 273.5V263.0M485.36 286.5V275.0M489.65 290.6V274.0M493.94 299.4V281.0M498.23 301.5V288.9M502.52 308.5V301.3M506.81 320.4V307.7M511.10 325.1V317.7M515.39 337.3V329.9M519.69 348.5V335.3M523.98 354.5V349.9M528.27 366.0V361.1M532.56 377.9V362.7M536.85 390.3V374.3M541.14 400.3V384.8M545.43 416.0V404.2M549.72 426.5V412.9M554.01 431.8V409.8M558.30 426.0V415.4M562.60 430.5V425.9M566.89 431.2V399.0M571.18 428.8V405.3M575.47 423.5V405.2M579.76 430.3V412.5M584.05 427.0V418.0M588.34 425.4V412.5M592.63 424.4V411.2M596.92 427.9V421.6M601.21 426.6V393.0M605.51 423.9V409.4M609.80 435.5V403.4M614.09 430.5V409.1M618.38 429.8V415.4M622.67 433.7V420.9M626.96 424.2V400.1M631.25 428.7V412.1M635.54 433.5V408.0M639.83 426.1V412.6M644.12 426.5V421.2M648.42 429.1V399.1M652.71 428.5V408.6M657.00 429.3V405.1M661.29 430.3V417.7M665.58 426.5V413.0M669.87 424.9V404.2M674.16 424.7V415.0M678.45 427.4V417.3M682.74 430.3V419.9M687.03 426.8V421.3M691.33 431.5V407.6M695.62 433.3V413.2M699.91 432.9V424.1M704.20 431.0V403.2M708.49 429.4V404.7M712.78 427.1V405.5M717.07 429.0V424.4M721.36 427.2V412.1M725.65 434.2V429.6M729.94 430.4V419.3M734.24 424.7V417.8M738.53 431.5V414.3M742.82 430.1V425.5M747.11 433.1V411.4M751.40 430.5V406.5"/>
<polyline class="m" marker-start="url(#m6)" marker-mid="url(#m6)" marker-end="url(#m6)" points="107.75,428.8 112.04,413.3 116.33,407.6 120.62,417.5 124.91,412.4 129.20,424.7 133.50,420.8 137.79,416.5 142.08,415.8 146.37,409.7 150.66,405.4 154.95,422.0 159.24,402.4 163.53,417.7 167.82,415.7 172.12,405.9 176.41,428.1 180.70,422.1 184.99,418.2 189.28,412.5 193.57,406.2 197.86,406.1 202.15,418.7 206.44,408.3 210.73,415.6 215.02,403.6 219.32,414.7 223.61,406.3 227.90,419.4 232.19,408.1 236.48,421.5 240.77,412.3 245.06,423.1 249.35,413.8 253.64,417.9 257.93,419.1 262.23,411.4 266.52,408.0 270.81,412.2 275.10,410.9 279.39,54.2 283.68,53.1 287.97,58.7 292.26,68.3 296.55,56.6 300.84,84.5 305.14,102.4 309.43,98.0 313.72,67.6 318.01,96.8 322.30,96.6 326.59,88.8 330.88,107.5 335.17,117.3 339.46,130.3 343.75,119.5 348.05,102.3 352.34,123.2 356.63,113.1 360.92,125.1 365.21,140.2 369.50,118.5 373.79,145.7 378.08,161.3 382.37,153.8 386.66,155.0 390.96,156.3 395.25,166.8 399.54,177.6 403.83,174.7 408.12,173.8 412.41,185.9 416.70,191.3 420.99,195.2 425.28,195.8 429.57,199.9 433.87,204.3 438.16,214.4 442.45,213.5 446.74,221.4 451.03,227.8 455.32,236.7 459.61,238.9 463.90,242.4 468.19,245.1 472.48,249.9 476.78,257.5 481.07,263.0 485.36,275.0 489.65,274.0 493.94,281.0 498.23,288.9 502.52,301.3 506.81,307.7 511.10,317.7 515.39,329.9 519.69,335.3 523.98,349.9 528.27,361.1 532.56,362.7 536.85,374.3 541.14,384.8 545.43,404.2 549.72,412.9 554.01,409.8 558.30,415.4 562.60,425.9 566.89,399.0 571.18,405.3 575.47,405.2 579.76,412.5 584.05,418.0 588.34,412.5 592.63,411.2 596.92,421.6 601.21,393.0 605.51,409.4 609.80,403.4 614.09,409.1 618.38,415.4 622.67,420.9 626.96,400.1 631.25,412.1 635.54,408.0 639.83,412.6 644.12,421.2 648.42,399.1 652.71,408.6 657.00,405.1 661.29,417.7 665.58,413.0 669.87,404.2 674.16,415.0 678.45,417.3 682.74,419.9 687.03,421.3 691.33,407.6 695.62,413.2 699.91,424.1 704.20,403.2 708.49,404.7 712.78,405.5 717.07,424.4 721.36,412.1 725.65,429.6 729.94,419.3 734.24,417.8 738.53,414.3 742.82,425.5 747.11,411.4 751.40,406.5"/>
<path class="s" stroke="#0000ff" d="M107.75 436.6V408.6M112.04 425.0V403.4M116.33 431.0V412.2M120.62 429.1V413.0M124.91 430.0V414.0M129.20 436.4V417.2M133.50 432.0V419.5M137.79 427.3V417.5M142.08 427.7V413.3M146.37 431.3V416.2M150.66 426.0V412.1M154.95 426.6V412.3M159.24 432.7V408.8M163.53 437.3V416.0M167.82 430.4V425.8M172.12 428.6V418.8M176.41 432.7V400.7M180.70 427.1V408.0M184.99 430.0V388.4M189.28 427.1V414.1M193.57 426.8V413.3M197.86 426.9V415.7M202.15 431.6V411.5M206.44 431.7V408.5M210.73 428.5V405.1M215.02 429.4V415.0M219.32 432.2V414.6M223.61 426.8V414.9M227.90 432.6V412.6M232.19 430.1V406.1M236.48 426.3V417.5M240.77 427.7V398.9M245.06 431.8V409.3M249.35 430.1V405.8M253.64 428.3V418.4M257.93 432.6V415.1M262.23 427.4V416.0M266.52 425.1V412.5M270.81 430.2V425.6M275.10 431.3V409.6M279.39 86.4V41.5M283.68 80.1V61.0M287.97 89.2V58.4M292.26 94.5V72.5M296.55 88.4V77.2M300.84 112.7V80.9M305.14 107.0V85.1M309.43 105.9V84.1M313.72 116.8V81.5M318.01 121.8V87.7M322.30 122.8V83.3M326.59 119.5V100.5M330.88 126.2V109.9M335.17 126.2V113.2M339.46 135.6V124.0M343.75 132.8V119.9M348.05 136.7V125.5M352.34 145.8V107.8M356.63 160.1V123.1M360.92 153.7V115.7M365.21 157.0V151.8M369.50 156.2V136.9M373.79 167.4V135.1M378.08 166.6V144.8M382.37 170.0V154.8M386.66 182.0V154.1M390.96 176.1V158.8M395.25 188.3V162.7M399.54 185.3V166.1M403.83 188.2V166.4M408.12 192.3V175.0M412.41 196.1V179.0M416.70 196.7V184.9M420.99 207.0V187.2M425.28 208.7V197.4M429.57 215.9V196.0M433.87 214.8V204.7M438.16 223.8V204.3M442.45 227.5V215.5M446.74 229.6V218.1M451.03 236.1V223.8M455.32 241.3V232.5M459.61 245.4V229.4M463.90 251.7V237.7M468.19 255.1V244.7M472.48 264.5V245.9M476.78 267.8V258.2M481.07 273.5V263.2M485.36 286.5V265.3M489.65 290.6V266.7M493.94 299.4V283.2M498.23 301.5V284.4M502.52 308.5V297.9M506.81 320.4V309.8M511.10 325.1V313.0M515.39 337.3V318.9M519.69 348.5V332.4M523.98 354.5V341.1M528.27 366.0V357.6M532.56 377.9V373.3M536.85 390.3V374.8M541.14 400.3V394.8M545.43 416.0V401.4M549.72 426.5V416.4M554.01 431.8V411.5M558.30 426.0V407.1M562.60 430.5V423.1M566.89 431.2V413.6M571.18 428.8V413.6M575.47 423.5V404.3M579.76 430.3V412.3M584.05 427.0V417.9M588.34 425.4V416.4M592.63 424.4V401.5M596.92 427.9V418.3M601.21 426.6V412.5M605.51 423.9V411.1M609.80 435.5V420.0M614.09 430.5V417.9M618.38 429.8V425.2M622.67 433.7V418.5M626.96 424.2V408.7M631.25 428.7V411.4M635.54 433.5V424.6M639.83 426.1V403.8M644.12 426.5V421.1M648.42 429.1V418.7M652.71 428.5V402.7M657.00 429.3V409.9M661.29 430.3V413.2M665.58 426.5V403.4M669.87 424.9V413.2M674.16 424.7V410.6M678.45 427.4V416.3M682.74 430.3V413.5M687.03 426.8V413.2M691.33 431.5V405.9M695.62 433.3V416.7M699.91 432.9V414.0M704.20 431.0V426.4M708.49 429.4V423.5M712.78 427.1V408.4M717.07 429.0V415.2M721.36 427.2V415.0M725.65 434.2V409.0M729.94 430.4V414.9M734.24 424.7V412.2M738.53 431.5V414.6M742.82 430.1V425.4M747.11 433.1V409.0M751.40 430.5V397.0"/>
<polyline class="m" marker-start="url(#m0)" marker-mid="url(#m0)" marker-end="url(#m0)" points="107.75,408.6 112.04,403.4 116.33,412.2 120.62,413.0 124.91,414.0 129.20,417.2 133.50,419.5 137.79,417.5 142.08,413.3 146.37,416.2 150.66,412.1 154.95,412.3 159.24,408.8 163.53,416.0 167.82,425.8 172.12,418.8 176.41,400.7 180.70,408.0 184.99,388.4 189.28,414.1 193.57,413.3 197.86,415.7 202.15,411.5 206.44,408.5 210.73,405.1 215.02,415.0 219.32,414.6 223.61,414.9 227.90,412.6 232.19,406.1 236.48,417.5 240.77,398.9 245.06,409.3 249.35,405.8 253.64,418.4 257.93,415.1 262.23,416.0 266.52,412.5 270.81,425.6 275.10,409.6 279.39,41.5 283.68,61.0 287.97,58.4 292.26,72.5 296.55,77.2 300.84,80.9 305.14,85.1 309.43,84.1 313.72,81.5 318.01,87.7 322.30,83.3 326.59,100.5 330.88,109.9 335.17,113.2 339.46,124.0 343.75,119.9 348.05,125.5 352.34,107.8 356.63,123.1 360.92,115.7 365.21,151.8 369.50,136.9 373.79,135.1 378.08,144.8 382.37,154.8 386.66,154.1 390.96,158.8 395.25,162.7 399.54,166.1 403.83,166.4 408.12,175.0 412.41,179.0 416.70,184.9 420.99,187.2 425.28,197.4 429.57,196.0 433.87,204.7 438.16,204.3 442.45,215.5 446.74,218.1 451.03,223.8 455.32,232.5 459.61,229.4 463.90,237.7 468.19,244.7 472.48,245.9 476.78,258.2 481.07,263.2 485.36,265.3 489.65,266.7 493.94,283.2 498.23,284.4 502.52,297.9 506.81,309.8 511.10,313.0 515.39,318.9 519.69,332.4 523.98,341.1 528.27,357.6 532.56,373.3 536.85,374.8 541.14,394.8 545.43,401.4 549.72,416.4 554.01,411.5 558.30,407.1 562.60,423.1 566.89,413.6 571.18,413.6 575.47,404.3 579.76,412.3 584.05,417.9 588.34,416.4 592.63,401.5 596.92,418.3 601.21,412.5 605.51,411.1 609.80,420.0 614.09,417.9 618.38,425.2 622.67,418.5 626.96,408.7 631.25,411.4 635.54,424.6 639.83,403.8 644.12,421.1 648.42,418.7 652.71,402.7 657.00,409.9 661.29,413.2 665.58,403.4 669.87,413.2 674.16,410.6 678.45,416.3 682.74,413.5 687.03,413.2 691.33,405.9 695.62,416.7 699.91,414.0 704.20,426.4 708.49,423.5 712.78,408.4 717.07,415.2 721.36,415.0 725.65,409.0 729.94,414.9 734.24,412.2 738.53,414.6 742.82,425.4 747.11,409.0 751.40,397.0"/>
<path class="s" stroke="#008000" d="M107.75 436.6V432.0M112.04 425.0V412.5M116.33 431.0V411.3M120.62 429.1V410.5M124.91 430.0V403.5M129.20 436.4V392.2M133.50 432.0V415.1M137.79 427.3V413.8M142.08 427.7V414.2M146.37 431.3V416.6M150.66 426.0V416.9M154.95 426.6V413.9M159.24 432.7V428.1M163.53 437.3V410.8M167.82 430.4V416.0M172.12 428.6V420.8M176.41 432.7V414.4M180.70 427.1V417.9M184.99 430.0V405.7M189.28 427.1V420.1M193.57 426.8V412.8M197.86 426.9V411.1M202.15 431.6V418.5M206.44 431.7V421.0M210.73 428.5V410.9M215.02 429.4V415.8M219.32 432.2V419.1M223.61 426.8V422.2M227.90 432.6V409.5M232.19 430.1V403.9M236.48 426.3V416.5M240.77 427.7V410.0M245.06 431.8V406.4M249.35 430.1V407.0M253.64 428.3V416.8M257.93 432.6V409.9M262.23 427.4V408.9M266.52 425.1V397.4M270.81 430.2V411.7M275.10 431.3V406.5M279.39 86.4V53.6M283.68 80.1V58.8M287.97 89.2V77.9M292.26 94.5V69.4M296.55 88.4V61.6M300.84 112.7V83.0M305.14 107.0V80.9M309.43 105.9V94.2M313.72 116.8V87.9M318.01 121.8V90.9M322.30 122.8V91.4M326.59 119.5V105.3M330.88 126.2V109.3M335.17 126.2V114.3M339.46 135.6V110.5M343.75 132.8V115.1M348.05 136.7V100.7M352.34 145.8V129.9M356.63 160.1V122.2M360.92 153.7V136.8M365.21 157.0V139.9M369.50 156.2V131.2M373.79 167.4V140.6M378.08 166.6V143.8M382.37 170.0V161.6M386.66 182.0V137.7M390.96 176.1V146.0M395.25 188.3V168.6M399.54 185.3V176.3M403.83 188.2V176.6M408.12 192.3V175.4M412.41 196.1V186.0M416.70 196.7V184.0M420.99 207.0V193.1M425.28 208.7V181.6M429.57 215.9V200.0M433.87 214.8V205.7M438.16 223.8V199.9M442.45 227.5V212.0M446.74 229.6V218.3M451.03 236.1V223.6M455.32 241.3V226.4M459.61 245.4V235.8M463.90 251.7V239.2M468.19 255.1V247.5M472.48 264.5V256.4M476.78 267.8V258.5M481.07 273.5V262.9M485.36 286.5V263.9M489.65 290.6V276.0M493.94 299.4V285.3M498.23 301.5V290.8M502.52 308.5V296.7M506.81 320.4V315.8M511.10 325.1V317.1M515.39 337.3V332.7M519.69 348.5V340.4M523.98 354.5V346.3M528.27 366.0V354.3M532.56 377.9V364.5M536.85 390.3V375.7M541.14 400.3V382.4M545.43 416.0V399.0M549.72 426.5V410.3M554.01 431.8V414.6M558.30 426.0V400.8M562.60 430.5V404.7M566.89 431.2V416.2M571.18 428.8V416.1M575.47 423.5V407.9M579.76 430.3V406.5M584.05 427.0V414.5M588.34 425.4V405.7M592.63 424.4V419.8M596.92 427.9V413.5M601.21 426.6V406.4M605.51 423.9V416.0M609.80 435.5V395.9M614.09 430.5V412.6M618.38 429.8V414.1M622.67 433.7V423.9M626.96 424.2V414.5M631.25 428.7V411.4M635.54 433.5V411.3M639.83 426.1V407.9M644.12 426.5V406.8M648.42 429.1V414.6M652.71 428.5V413.8M657.00 429.3V402.2M661.29 430.3V407.0M665.58 426.5V412.3M669.87 424.9V413.7M674.16 424.7V405.9M678.45 427.4V405.9M682.74 430.3V412.9M687.03 426.8V409.6M691.33 431.5V412.1M695.62 433.3V412.6M699.91 432.9V401.0M704.20 431.0V420.2M708.49 429.4V407.7M712.78 427.1V418.8M717.07 429.0V416.6M721.36 427.2V407.2M725.65 434.2V420.4M729.94 430.4V418.1M734.24 424.7V419.3M738.53 431.5V416.0M742.82 430.1V410.5M747.11 433.1V405.3M751.40 430.5V416.4"/>
<polyline class="m" marker-start="url(#m1)" marker-mid="url(#m1)" marker-end="url(#m1)" points="107.75,432.0 112.04,412.5 116.33,411.3 120.62,410.5 124.91,403.5 129.20,392.2 133.50,415.1 137.79,413.8 142.08,414.2 146.37,416.6 150.66,416.9 154.95,413.9 159.24,428.1 163.53,410.8 167.82,416.0 172.12,420.8 176.41,414.4 180.70,417.9 184.99,405.7 189.28,420.1 193.57,412.8 197.86,411.1 202.15,418.5 206.44,421.0 210.73,410.9 215.02,415.8 219.32,419.1 223.61,422.2 227.90,409.5 232.19,403.9 236.48,416.5 240.77,410.0 245.06,406.4 249.35,407.0 253.64,416.8 257.93,409.9 262.23,408.9 266.52,397.4 270.81,411.7 275.10,406.5 279.39,53.6 283.68,58.8 287.97,77.9 292.26,69.4 296.55,61.6 300.84,83.0 305.14,80.9 309.43,94.2 313.72,87.9 318.01,90.9 322.30,91.4 326.59,105.3 330.88,109.3 335.17,114.3 339.46,110.5 343.75,115.1 348.05,100.7 352.34,129.9 356.63,122.2 360.92,136.8 365.21,139.9 369.50,131.2 373.79,140.6 378.08,143.8 382.37,161.6 386.66,137.7 390.96,146.0 395.25,168.6 399.54,176.3 403.83,176.6 408.12,175.4 412.41,186.0 416.70,184.0 420.99,193.1 425.28,181.6 429.57,200.0 433.87,205.7 438.16,199.9 442.45,212.0 446.74,218.3 451.03,223.6 455.32,226.4 459.61,235.8 463.90,239.2 468.19,247.5 472.48,256.4 476.78,258.5 481.07,262.9 485.36,263.9 489.65,276.0 493.94,285.3 498.23,290.8 502.52,296.7 506.81,315.8 511.10,317.1 515.39,332.7 519.69,340.4 523.98,346.3 528.27,354.3 532.56,364.5 536.85,375.7 541.14,382.4 545.43,399.0 549.72,410.3 554.01,414.6 558.30,400.8 562.60,404.7 566.89,416.2 571.18,416.1 575.47,407.9 579.76,406.5 584.05,414.5 588.34,405.7 592.63,419.8 596.92,413.5 601.21,406.4 605.51,416.0 609.80,395.9 614.09,412.6 618.38,414.1 622.67,423.9 626.96,414.5 631.25,411.4 635.54,411.3 639.83,407.9 644.12,406.8 648.42,414.6 652.71,413.8 657.00,402.2 661.29,407.0 665.58,412.3 669.87,413.7 674.16,405.9 678.45,405.9 682.74,412.9 687.03,409.6 691.33,412.1 695.62,412.6 699.91,401.0 704.20,420.2 708.49,407.7 712.78,418.8 717.07,416.6 721.36,407.2 725.65,420.4 729.94,418.1 734.24,419.3 738.53,416.0 742.82,410.5 747.11,405.3 751.40,416.4"/>
<path class="s" stroke="#ff0000" d="M107.75 436.6V406.8M112.04 425.0V419.9M116.33 431.0V394.0M120.62 429.1V415.3M124.91 430.0V415.5M129.20 436.4V411.0M133.50 432.0V412.1M137.79 427.3V413.7M142.08 427.7V423.1M146.37 431.3V407.5M150.66 426.0V408.4M154.95 426.6V415.2M159.24 432.7V419.9M163.53 437.3V411.2M167.82 430.4V406.0M172.12 428.6V423.5M176.41 432.7V419.7M180.70 427.1V412.3M184.99 430.0V417.8M189.28 427.1V415.0M193.57 426.8V413.5M197.86 426.9V408.1M202.15 431.6V408.1M206.44 431.7V406.8M210.73 428.5V407.3M215.02 429.4V416.7M219.32 432.2V427.6M223.61 426.8V410.9M227.90 432.6V410.1M232.19 430.1V410.1M236.48 426.3V417.0M240.77 427.7V401.1M245.06 431.8V423.1M249.35 430.1V407.9M253.64 428.3V409.0M257.93 432.6V407.2M262.23 427.4V404.3M266.52 425.1V409.8M270.81 430.2V410.8M275.10 431.3V414.6M279.39 86.4V53.9M283.68 80.1V61.1M287.97 89.2V60.9M292.26 94.5V82.9M296.55 88.4V48.9M300.84 112.7V46.3M305.14 107.0V78.3M309.43 105.9V101.3M313.72 116.8V100.2M318.01 121.8V117.2M322.30 122.8V95.4M326.59 119.5V98.8M330.88 126.2V96.5M335.17 126.2V110.8M339.46 135.6V109.3M343.75 132.8V105.4M348.05 136.7V123.1M352.34 145.8V104.6M356.63 160.1V131.5M360.92 153.7V131.1M365.21 157.0V151.8M369.50 156.2V140.7M373.79 167.4V148.1M378.08 166.6V152.7M382.37 170.0V149.8M386.66 182.0V163.7M390.96 176.1V158.5M395.25 188.3V176.9M399.54 185.3V171.3M403.83 188.2V164.7M408.12 192.3V176.1M412.41 196.1V177.9M416.70 196.7V190.1M420.99 207.0V196.3M425.28 208.7V188.0M429.57 215.9V194.5M433.87 214.8V200.0M438.16 223.8V208.5M442.45 227.5V208.4M446.74 229.6V220.1M451.03 236.1V220.7M455.32 241.3V226.1M459.61 245.4V237.7M463.90 251.7V234.1M468.19 255.1V244.9M472.48 264.5V248.1M476.78 267.8V263.2M481.07 273.5V268.3M485.36 286.5V271.8M489.65 290.6V274.9M493.94 299.4V279.5M498.23 301.5V289.9M502.52 308.5V299.5M506.81 320.4V304.8M511.10 325.1V316.4M515.39 337.3V323.7M519.69 348.5V332.1M523.98 354.5V346.1M528.27 366.0V352.2M532.56 377.9V370.3M536.85 390.3V379.4M541.14 400.3V385.4M545.43 416.0V404.9M549.72 426.5V409.8M554.01 431.8V411.3M558.30 426.0V413.9M562.60 430.5V403.4M566.89 431.2V409.8M571.18 428.8V416.3M575.47 423.5V415.9M579.76 430.3V412.0M584.05 427.0V421.9M588.34 425.4V405.7M592.63 424.4V413.2M596.92 427.9V423.3M601.21 426.6V418.8M605.51 423.9V404.1M609.80 435.5V411.4M614.09 430.5V399.5M618.38 429.8V412.6M622.67 433.7V409.9M626.96 424.2V400.8M631.25 428.7V399.7M635.54 433.5V418.5M639.83 426.1V395.9M644.12 426.5V419.2M648.42 429.1V415.6M652.71 428.5V423.5M657.00 429.3V409.2M661.29 430.3V419.0M665.58 426.5V417.6M669.87 424.9V401.0M674.16 424.7V407.3M678.45 427.4V413.8M682.74 430.3V423.8M687.03 426.8V410.8M691.33 431.5V426.9M695.62 433.3V418.4M699.91 432.9V408.7M704.20 431.0V407.8M708.49 429.4V411.9M712.78 427.1V407.8M717.07 429.0V411.6M721.36 427.2V417.6M725.65 434.2V412.6M729.94 430.4V402.2M734.24 424.7V413.1M738.53 431.5V410.9M742.82 430.1V409.4M747.11 433.1V421.3M751.40 430.5V419.1"/>
<polyline class="m" marker-start="url(#m2)" marker-mid="url(#m2)" marker-end="url(#m2)" points="107.75,406.8 112.04,419.9 116.33,394.0 120.62,415.3 124.91,415.5 129.20,411.0 133.50,412.1 137.79,413.7 142.08,423.1 146.37,407.5 150.66,408.4 154.95,415.2 159.24,419.9 163.53,411.2 167.82,406.0 172.12,423.5 176.41,419.7 180.70,412.3 184.99,417.8 189.28,415.0 193.57,413.5 197.86,408.1 202.15,408.1 206.44,406.8 210.73,407.3 215.02,416.7 219.32,427.6 223.61,410.9 227.90,410.1 232.19,410.1 236.48,417.0 240.77,401.1 245.06,423.1 249.35,407.9 253.64,409.0 257.93,407.2 262.23,404.3 266.52,409.8 270.81,410.8 275.10,414.6 279.39,53.9 283.68,61.1 287.97,60.9 292.26,82.9 296.55,48.9 300.84,46.3 305.14,78.3 309.43,101.3 313.72,100.2 318.01,117.2 322.30,95.4 326.59,98.8 330.88,96.5 335.17,110.8 339.46,109.3 343.75,105.4 348.05,123.1 352.34,104.6 356.63,131.5 360.92,131.1 365.21,151.8 369.50,140.7 373.79,148.1 378.08,152.7 382.37,149.8 386.66,163.7 390.96,158.5 395.25,176.9 399.54,171.3 403.83,164.7 408.12,176.1 412.41,177.9 416.70,190.1 420.99,196.3 425.28,188.0 429.57,194.5 433.87,200.0 438.16,208.5 442.45,208.4 446.74,220.1 451.03,220.7 455.32,226.1 459.61,237.7 463.90,234.1 468.19,244.9 472.48,248.1 476.78,263.2 481.07,268.3 485.36,271.8 489.65,274.9 493.94,279.5 498.23,289.9 502.52,299.5 506.81,304.8 511.10,316.4 515.39,323.7 519.69,332.1 523.98,346.1 528.27,352.2 532.56,370.3 536.85,379.4 541.14,385.4 545.43,404.9 549.72,409.8 554.01,411.3 558.30,413.9 562.60,403.4 566.89,409.8 571.18,416.3 575.47,415.9 579.76,412.0 584.05,421.9 588.34,405.7 592.63,413.2 596.92,423.3 601.21,418.8 605.51,404.1 609.80,411.4 614.09,399.5 618.38,412.6 622.67,409.9 626.96,400.8 631.25,399.7 635.54,418.5 639.83,395.9 644.12,419.2 648.42,415.6 652.71,423.5 657.00,409.2 661.29,419.0 665.58,417.6 669.87,401.0 674.16,407.3 678.45,413.8 682.74,423.8 687.03,410.8 691.33,426.9 695.62,418.4 699.91,408.7 704.20,407.8 708.49,411.9 712.78,407.8 717.07,411.6 721.36,417.6 725.65,412.6 729.94,402.2 734.24,413.1 738.53,410.9 742.82,409.4 747.11,421.3 751.40,419.1"/>
<path class="s" stroke="#00bfbf" d="M107.75 436.6V422.4M112.04 425.0V410.6M116.33 431.0V415.0M120.62 429.1V420.4M124.91 430.0V420.6M129.20 436.4V408.3M133.50 432.0V407.7M137.79 427.3V410.3M142.08 427.7V412.7M146.37 431.3V409.7M150.66 426.0V412.7M154.95 426.6V410.6M159.24 432.7V415.4M163.53 437.3V419.1M167.82 430.4V417.5M172.12 428.6V411.3M176.41 432.7V402.5M180.70 427.1V418.2M184.99 430.0V419.8M189.28 427.1V408.5M193.57 426.8V408.4M197.86 426.9V417.4M202.15 431.6V416.6M206.44 431.7V416.7M210.73 428.5V411.0M215.02 429.4V394.1M219.32 432.2V417.5M223.61 426.8V411.2M227.90 432.6V416.1M232.19 430.1V412.2M236.48 426.3V410.5M240.77 427.7V411.4M245.06 431.8V393.0M249.35 430.1V419.2M253.64 428.3V407.4M257.93 432.6V411.5M262.23 427.4V412.0M266.52 425.1V409.6M270.81 430.2V417.8M275.10 431.3V405.8M279.39 86.4V69.4M283.68 80.1V75.5M287.97 89.2V78.5M292.26 94.5V74.0M296.55 88.4V51.7M300.84 112.7V79.8M305.14 107.0V81.2M309.43 105.9V73.2M313.72 116.8V94.9M318.01 121.8V111.8M322.30 122.8V104.9M326.59 119.5V106.3M330.88 126.2V121.6M335.17 126.2V112.8M339.46 135.6V113.2M343.75 132.8V99.7M348.05 136.7V114.7M352.34 145.8V124.4M356.63 160.1V133.9M360.92 153.7V139.6M365.21 157.0V152.4M369.50 156.2V142.3M373.79 167.4V162.8M378.08 166.6V150.2M382.37 170.0V140.9M386.66 182.0V159.7M390.96 176.1V158.2M395.25 188.3V170.7M399.54 185.3V180.7M403.83 188.2V171.9M408.12 192.3V179.0M412.41 196.1V179.4M416.70 196.7V185.6M420.99 207.0V187.7M425.28 208.7V197.4M429.57 215.9V197.3M433.87 214.8V200.0M438.16 223.8V211.5M442.45 227.5V215.4M446.74 229.6V214.6M451.03 236.1V222.0M455.32 241.3V230.2M459.61 245.4V240.8M463.90 251.7V241.3M468.19 255.1V240.0M472.48 264.5V253.5M476.78 267.8V258.6M481.07 273.5V267.7M485.36 286.5V271.1M489.65 290.6V277.5M493.94 299.4V283.4M498.23 301.5V294.4M502.52 308.5V303.9M506.81 320.4V299.4M511.10 325.1V315.4M515.39 337.3V328.2M519.69 348.5V334.8M523.98 354.5V342.1M528.27 366.0V350.0M532.56 377.9V364.0M536.85 390.3V378.0M541.14 400.3V386.7M545.43 416.0V409.6M549.72 426.5V419.2M554.01 431.8V405.8M558.30 426.0V412.2M562.60 430.5V413.8M566.89 431.2V417.3M571.18 428.8V394.6M575.47 423.5V411.9M579.76 430.3V413.2M584.05 427.0V402.8M588.34 425.4V418.6M592.63 424.4V413.4M596.92 427.9V415.6M601.21 426.6V418.9M605.51 423.9V402.3M609.80 435.5V405.0M614.09 430.5V412.5M618.38 429.8V422.0M622.67 433.7V411.5M626.96 424.2V410.4M631.25 428.7V417.2M635.54 433.5V423.3M639.83 426.1V402.4M644.12 426.5V421.9M648.42 429.1V406.8M652.71 428.5V417.6M657.00 429.3V415.9M661.29 430.3V407.3M665.58 426.5V420.5M669.87 424.9V415.5M674.16 424.7V413.8M678.45 427.4V393.0M682.74 430.3V407.3M687.03 426.8V412.6M691.33 431.5V421.1M695.62 433.3V406.1M699.91 432.9V416.0M704.20 431.0V411.7M708.49 429.4V424.8M712.78 427.1V414.5M717.07 429.0V410.3M721.36 427.2V415.6M725.65 434.2V409.6M729.94 430.4V405.4M734.24 424.7V403.7M738.53 431.5V416.8M742.82 430.1V422.8M747.11 433.1V428.5M751.40 430.5V415.4"/>
<polyline class="m" marker-start="url(#m3)" marker-mid="url(#m3)" marker-end="url(#m3)" points="107.75,422.4 112.04,410.6 116.33,415.0 120.62,420.4 124.91,420.6 129.20,408.3 133.50,407.7 137.79,410.3 142.08,412.7 146.37,409.7 150.66,412.7 154.95,410.6 159.24,415.4 163.53,419.1 167.82,417.5 172.12,411.3 176.41,402.5 180.70,418.2 184.99,419.8 189.28,408.5 193.57,408.4 197.86,417.4 202.15,416.6 206.44,416.7 210.73,411.0 215.02,394.1 219.32,417.5 223.61,411.2 227.90,416.1 232.19,412.2 236.48,410.5 240.77,411.4 245.06,393.0 249.35,419.2 253.64,407.4 257.93,411.5 262.23,412.0 266.52,409.6 270.81,417.8 275.10,405.8 279.39,69.4 283.68,75.5 287.97,78.5 292.26,74.0 296.55,51.7 300.84,79.8 305.14,81.2 309.43,73.2 313.72,94.9 318.01,111.8 322.30,104.9 326.59,106.3 330.88,121.6 335.17,112.8 339.46,113.2 343.75,99.7 348.05,114.7 352.34,124.4 356.63,133.9 360.92,139.6 365.21,152.4 369.50,142.3 373.79,162.8 378.08,150.2 382.37,140.9 386.66,159.7 390.96,158.2 395.25,170.7 399.54,180.7 403.83,171.9 408.12,179.0 412.41,179.4 416.70,185.6 420.99,187.7 425.28,197.4 429.57,197.3 433.87,200.0 438.16,211.5 442.45,215.4 446.74,214.6 451.03,222.0 455.32,230.2 459.61,240.8 463.90,241.3 468.19,240.0 472.48,253.5 476.78,258.6 481.07,267.7 485.36,271.1 489.65,277.5 493.94,283.4 498.23,294.4 502.52,303.9 506.81,299.4 511.10,315.4 515.39,328.2 519.69,334.8 523.98,342.1 528.27,350.0 532.56,364.0 536.85,378.0 541.14,386.7 545.43,409.6 549.72,419.2 554.01,405.8 558.30,412.2 562.60,413.8 566.89,417.3 571.18,394.6 575.47,411.9 579.76,413.2 584.05,402.8 588.34,418.6 592.63,413.4 596.92,415.6 601.21,418.9 605.51,402.3 609.80,405.0 614.09,412.5 618.38,422.0 622.67,411.5 626.96,410.4 631.25,417.2 635.54,423.3 639.83,402.4 644.12,421.9 648.42,406.8 652.71,417.6 657.00,415.9 661.29,407.3 665.58,420.5 669.87,415.5 674.16,413.8 678.45,393.0 682.74,407.3 687.03,412.6 691.33,421.1 695.62,406.1 699.91,416.0 704.20,411.7 708.49,424.8 712.78,414.5 717.07,410.3 721.36,415.6 725.65,409.6 729.94,405.4 734.24,403.7 738.53,416.8 742.82,422.8 747.11,428.5 751.40,415.4"/>
<path class="s" stroke="#bf00bf" d="M107.75 436.6V425.6M112.04 425.0V410.6M116.33 431.0V426.4M120.62 429.1V406.8M124.91 430.0V413.1M129.20 436.4V423.3M133.50 432.0V411.8M137.79 427.3V409.9M142.08 427.7V410.0M146.37 431.3V413.6M150.66 426.0V409.7M154.95 426.6V410.3M159.24 432.7V415.7M163.53 437.3V413.0M167.82 430.4V421.6M172.12 428.6V408.9M176.41 432.7V421.6M180.70 427.1V414.7M184.99 430.0V420.9M189.28 427.1V407.8M193.57 426.8V412.6M197.86 426.9V420.1M202.15 431.6V412.0M206.44 431.7V415.0M210.73 428.5V409.6M215.02 429.4V413.5M219.32 432.2V414.1M223.61 426.8V415.2M227.90 432.6V424.0M232.19 430.1V410.9M236.48 426.3V409.2M240.77 427.7V419.8M245.06 431.8V410.7M249.35 430.1V406.6M253.64 428.3V408.1M257.93 432.6V405.7M262.23 427.4V408.1M266.52 425.1V416.1M270.81 430.2V400.1M275.10 431.3V413.0M279.39 86.4V67.4M283.68 80.1V51.7M287.97 89.2V44.9M292.26 94.5V64.5M296.55 88.4V83.8M300.84 112.7V68.9M305.14 107.0V71.4M309.43 105.9V91.5M313.72 116.8V85.4M318.01 121.8V87.8M322.30 122.8V99.0M326.59 119.5V97.2M330.88 126.2V106.7M335.17 126.2V115.4M339.46 135.6V122.2M343.75 132.8V114.4M348.05 136.7V115.9M352.34 145.8V117.2M356.63 160.1V124.1M360.92 153.7V126.2M365.21 157.0V138.9M369.50 156.2V125.7M373.79 167.4V150.2M378.08 166.6V141.8M382.37 170.0V152.9M386.66 182.0V157.7M390.96 176.1V145.9M395.25 188.3V160.4M399.54 185.3V174.9M403.83 188.2V170.0M408.12 192.3V178.9M412.41 196.1V170.8M416.70 196.7V189.3M420.99 207.0V189.3M425.28 208.7V196.6M429.57 215.9V201.3M433.87 214.8V200.3M438.16 223.8V203.4M442.45 227.5V207.8M446.74 229.6V218.6M451.03 236.1V225.6M455.32 241.3V226.2M459.61 245.4V235.4M463.90 251.7V233.2M468.19 255.1V250.5M472.48 264.5V249.2M476.78 267.8V261.9M481.07 273.5V267.3M485.36 286.5V276.2M489.65 290.6V281.8M493.94 299.4V281.8M498.23 301.5V294.0M502.52 308.5V303.1M506.81 320.4V311.8M511.10 325.1V319.1M515.39 337.3V326.0M519.69 348.5V330.2M523.98 354.5V343.4M528.27 366.0V354.0M532.56 377.9V365.2M536.85 390.3V373.5M541.14 400.3V392.8M545.43 416.0V399.8M549.72 426.5V419.6M554.01 431.8V419.3M558.30 426.0V409.0M562.60 430.5V412.5M566.89 431.2V414.0M571.18 428.8V418.8M575.47 423.5V410.1M579.76 430.3V399.5M584.05 427.0V409.4M588.34 425.4V409.3M592.63 424.4V413.3M596.92 427.9V405.5M601.21 426.6V415.1M605.51 423.9V394.7M609.80 435.5V430.9M614.09 430.5V412.3M618.38 429.8V405.1M622.67 433.7V419.4M626.96 424.2V416.8M631.25 428.7V417.0M635.54 433.5V414.0M639.83 426.1V401.9M644.12 426.5V418.3M648.42 429.1V397.5M652.71 428.5V406.6M657.00 429.3V402.9M661.29 430.3V411.2M665.58 426.5V421.9M669.87 424.9V419.9M674.16 424.7V404.4M678.45 427.4V414.5M682.74 430.3V410.3M687.03 426.8V410.7M691.33 431.5V403.3M695.62 433.3V404.5M699.91 432.9V410.3M704.20 431.0V391.1M708.49 429.4V406.3M712.78 427.1V394.6M717.07 429.0V416.6M721.36 427.2V420.4M725.65 434.2V418.0M729.94 430.4V421.6M734.24 424.7V407.1M738.53 431.5V413.9M742.82 430.1V401.4M747.11 433.1V414.3M751.40 430.5V410.6"/>
<polyline class="m" marker-start="url(#m4)" marker-mid="url(#m4)" marker-end="url(#m4)" points="107.75,425.6 112.04,410.6 116.33,426.4 120.62,406.8 124.91,413.1 129.20,423.3 133.50,411.8 137.79,409.9 142.08,410.0 146.37,413.6 150.66,409.7 154.95,410.3 159.24,415.7 163.53,413.0 167.82,421.6 172.12,408.9 176.41,421.6 180.70,414.7 184.99,420.9 189.28,407.8 193.57,412.6 197.86,420.1 202.15,412.0 206.44,415.0 210.73,409.6 215.02,413.5 219.32,414.1 223.61,415.2 227.90,424.0 232.19,410.9 236.48,409.2 240.77,419.8 245.06,410.7 249.35,406.6 253.64,408.1 257.93,405.7 262.23,408.1 266.52,416.1 270.81,400.1 275.10,413.0 279.39,67.4 283.68,51.7 287.97,44.9 292.26,64.5 296.55,83.8 300.84,68.9 305.14,71.4 309.43,91.5 313.72,85.4 318.01,87.8 322.30,99.0 326.59,97.2 330.88,106.7 335.17,115.4 339.46,122.2 343.75,114.4 348.05,115.9 352.34,117.2 356.63,124.1 360.92,126.2 365.21,138.9 369.50,125.7 373.79,150.2 378.08,141.8 382.37,152.9 386.66,157.7 390.96,145.9 395.25,160.4 399.54,174.9 403.83,170.0 408.12,178.9 412.41,170.8 416.70,189.3 420.99,189.3 425.28,196.6 429.57,201.3 433.87,200.3 438.16,203.4 442.45,207.8 446.74,218.6 451.03,225.6 455.32,226.2 459.61,235.4 463.90,233.2 468.19,250.5 472.48,249.2 476.78,261.9 481.07,267.3 485.36,276.2 489.65,281.8 493.94,281.8 498.23,294.0 502.52,303.1 506.81,311.8 511.10,319.1 515.39,326.0 519.69,330.2 523.98,343.4 528.27,354.0 532.56,365.2 536.85,373.5 541.14,392.8 545.43,399.8 549.72,419.6 554.01,419.3 558.30,409.0 562.60,412.5 566.89,414.0 571.18,418.8 575.47,410.1 579.76,399.5 584.05,409.4 588.34,409.3 592.63,413.3 596.92,405.5 601.21,415.1 605.51,394.7 609.80,430.9 614.09,412.3 618.38,405.1 622.67,419.4 626.96,416.8 631.25,417.0 635.54,414.0 639.83,401.9 644.12,418.3 648.42,397.5 652.71,406.6 657.00,402.9 661.29,411.2 665.58,421.9 669.87,419.9 674.16,404.4 678.45,414.5 682.74,410.3 687.03,410.7 691.33,403.3 695.62,404.5 699.91,410.3 704.20,391.1 708.49,406.3 712.78,394.6 717.07,416.6 721.36,420.4 725.65,418.0 729.94,421.6 734.24,407.1 738.53,413.9 742.82,401.4 747.11,414.3 751.40,410.6"/>
<path class="s" stroke="#bfbf00" style="stroke-width:1.5" d="M107.75 436.6V415.3M112.04 425.0V407.8M116.33 431.0V408.7M120.62 429.1V414.3M124.91 430.0V410.3M129.20 436.4V417.0M133.50 432.0V415.7M137.79 427.3V418.6M142.08 427.7V407.0M146.37 431.3V418.2M150.66 426.0V390.0M154.95 426.6V406.6M159.24 432.7V413.2M163.53 437.3V420.9M167.82 430.4V419.5M172.12 428.6V416.3M176.41 432.7V419.6M180.70 427.1V413.4M184.99 430.0V420.2M189.28 427.1V420.3M193.57 426.8V408.2M197.86 426.9V402.7M202.15 431.6V404.8M206.44 431.7V415.3M210.73 428.5V409.6M215.02 429.4V414.1M219.32 432.2V401.9M223.61 426.8V411.0M227.90 432.6V409.9M232.19 430.1V401.2M236.48 426.3V405.1M240.77 427.7V412.0M245.06 431.8V418.9M249.35 430.1V415.0M253.64 428.3V421.3M257.93 432.6V402.4M262.23 427.4V413.7M266.52 425.1V408.4M270.81 430.2V411.5M275.10 431.3V417.2M279.39 86.4V58.2M283.68 80.1V61.0M287.97 89.2V68.7M292.26 94.5V72.2M296.55 88.4V72.4M300.84 112.7V88.2M305.14 107.0V84.1M309.43 105.9V91.0M313.72 116.8V97.6M318.01 121.8V92.9M322.30 122.8V118.2M326.59 119.5V114.3M330.88 126.2V107.3M335.17 126.2V95.3M339.46 135.6V107.9M343.75 132.8V123.5M348.05 136.7V107.9M352.34 145.8V123.2M356.63 160.1V134.2M360.92 153.7V133.3M365.21 157.0V123.6M369.50 156.2V133.6M373.79 167.4V149.6M378.08 166.6V156.0M382.37 170.0V147.7M386.66 182.0V164.2M390.96 176.1V163.3M395.25 188.3V159.8M399.54 185.3V174.7M403.83 188.2V177.2M408.12 192.3V175.7M412.41 196.1V182.7M416.70 196.7V179.0M420.99 207.0V190.0M425.28 208.7V191.7M429.57 215.9V196.2M433.87 214.8V206.3M438.16 223.8V205.0M442.45 227.5V208.0M446.74 229.6V219.2M451.03 236.1V225.9M455.32 241.3V229.9M459.61 245.4V228.6M463.90 251.7V239.8M468.19 255.1V247.4M472.48 264.5V256.2M476.78 267.8V257.6M481.07 273.5V268.9M485.36 286.5V266.7M489.65 290.6V280.2M493.94 299.4V289.1M498.23 301.5V287.7M502.52 308.5V297.9M506.81 320.4V305.4M511.10 325.1V319.2M515.39 337.3V321.5M519.69 348.5V332.6M523.98 354.5V342.9M528.27 366.0V350.5M532.56 377.9V360.7M536.85 390.3V376.6M541.14 400.3V381.4M545.43 416.0V398.7M549.72 426.5V413.4M554.01 431.8V409.1M558.30 426.0V411.4M562.60 430.5V403.5M566.89 431.2V411.3M571.18 428.8V413.7M575.47 423.5V412.9M579.76 430.3V408.0M584.05 427.0V422.4M588.34 425.4V420.8M592.63 424.4V414.5M596.92 427.9V410.1M601.21 426.6V409.1M605.51 423.9V414.8M609.80 435.5V422.5M614.09 430.5V425.9M618.38 429.8V414.2M622.67 433.7V415.8M626.96 424.2V411.4M631.25 428.7V407.2M635.54 433.5V418.5M639.83 426.1V404.8M644.12 426.5V415.7M648.42 429.1V414.3M652.71 428.5V412.1M657.00 429.3V424.7M661.29 430.3V398.7M665.58 426.5V415.0M669.87 424.9V406.3M674.16 424.7V417.2M678.45 427.4V422.8M682.74 430.3V419.6M687.03 426.8V420.0M691.33 431.5V424.8M695.62 433.3V428.7M699.91 432.9V408.8M704.20 431.0V417.5M708.49 429.4V412.5M712.78 427.1V405.7M717.07 429.0V416.4M721.36 427.2V413.1M725.65 434.2V407.1M729.94 430.4V410.9M734.24 424.7V411.9M738.53 431.5V419.0M742.82 430.1V418.9M747.11 433.1V408.9M751.40 430.5V414.7"/>
<polyline class="m" marker-start="url(#m5)" marker-mid="url(#m5)" marker-end="url(#m5)" points="107.75,415.3 112.04,407.8 116.33,408.7 120.62,414.3 124.91,410.3 129.20,417.0 133.50,415.7 137.79,418.6 142.08,407.0 146.37,418.2 150.66,390.0 154.95,406.6 159.24,413.2 163.53,420.9 167.82,419.5 172.12,416.3 176.41,419.6 180.70,413.4 184.99,420.2 189.28,420.3 193.57,408.2 197.86,402.7 202.15,404.8 206.44,415.3 210.73,409.6 215.02,414.1 219.32,401.9 223.61,411.0 227.90,409.9 232.19,401.2 236.48,405.1 240.77,412.0 245.06,418.9 249.35,415.0 253.64,421.3 257.93,402.4 262.23,413.7 266.52,408.4 270.81,411.5 275.10,417.2 279.39,58.2 283.68,61.0 287.97,68.7 292.26,72.2 296.55,72.4 300.84,88.2 305.14,84.1 309.43,91.0 313.72,97.6 318.01,92.9 322.30,118.2 326.59,114.3 330.88,107.3 335.17,95.3 339.46,107.9 343.75,123.5 348.05,107.9 352.34,123.2 356.63,134.2 360.92,133.3 365.21,123.6 369.50,133.6 373.79,149.6 378.08,156.0 382.37,147.7 386.66,164.2 390.96,163.3 395.25,159.8 399.54,174.7 403.83,177.2 408.12,175.7 412.41,182.7 416.70,179.0 420.99,190.0 425.28,191.7 429.57,196.2 433.87,206.3 438.16,205.0 442.45,208.0 446.74,219.2 451.03,225.9 455.32,229.9 459.61,228.6 463.90,239.8 468.19,247.4 472.48,256.2 476.78,257.6 481.07,268.9 485.36,266.7 489.65,280.2 493.94,289.1 498.23,287.7 502.52,297.9 506.81,305.4 511.10,319.2 515.39,321.5 519.69,332.6 523.98,342.9 528.27,350.5 532.56,360.7 536.85,376.6 541.14,381.4 545.43,398.7 549.72,413.4 554.01,409.1 558.30,411.4 562.60,403.5 566.89,411.3 571.18,413.7 575.47,412.9 579.76,408.0 584.05,422.4 588.34,420.8 592.63,414.5 596.92,410.1 601.21,409.1 605.51,414.8 609.80,422.5 614.09,425.9 618.38,414.2 622.67,415.8 626.96,411.4 631.25,407.2 635.54,418.5 639.83,404.8 644.12,415.7 648.42,414.3 652.71,412.1 657.00,424.7 661.29,398.7 665.58,415.0 669.87,406.3 674.16,417.2 678.45,422.8 682.74,419.6 687.03,420.0 691.33,424.8 695.62,428.7 699.91,408.8 704.20,417.5 708.49,412.5 712.78,405.7 717.07,416.4 721.36,413.1 725.65,407.1 729.94,410.9 734.24,411.9 738.53,419.0 742.82,418.9 747.11,408.9 751.40,414.7"/>
<path d="M107.75 225.50H751.4" stroke="#ff0000" stroke-width="3" stroke-dasharray="11.3 11.8" fill="none"/>
<path d="M107.75 332.50H751.4" stroke="#ff0000" stroke-width="3" stroke-dasharray="11.3 11.8" fill="none"/>
</svg>
</body></html>
